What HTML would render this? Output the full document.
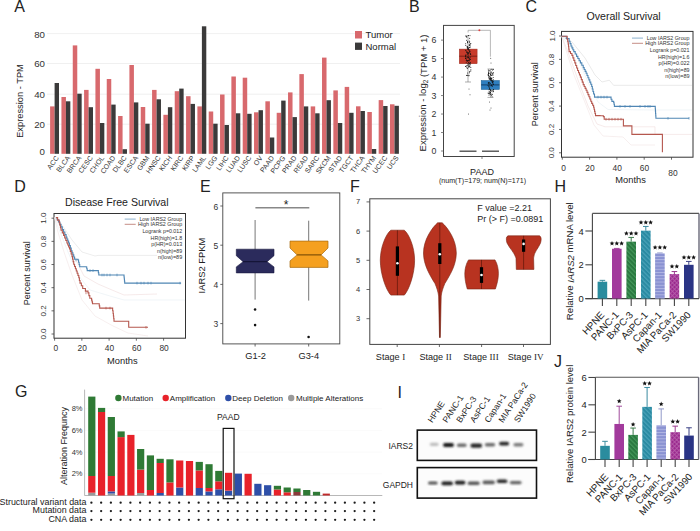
<!DOCTYPE html>
<html><head><meta charset="utf-8"><style>
html,body{margin:0;padding:0;background:#fff;width:700px;height:531px;overflow:hidden;}
svg{display:block;}
</style></head><body>
<svg width="700" height="531" viewBox="0 0 700 531" font-family="Liberation Sans, sans-serif">
<rect width="700" height="531" fill="#fff"/>
<text x="14.2" y="6.4" font-size="16" text-anchor="start" fill="#222" font-family="Liberation Sans" dominant-baseline="central" >A</text>
<text x="408.9" y="6.2" font-size="16" text-anchor="start" fill="#222" font-family="Liberation Sans" dominant-baseline="central" >B</text>
<text x="525.6" y="6.6" font-size="16" text-anchor="start" fill="#222" font-family="Liberation Sans" dominant-baseline="central" >C</text>
<text x="14.2" y="186.2" font-size="16" text-anchor="start" fill="#222" font-family="Liberation Sans" dominant-baseline="central" >D</text>
<text x="200.1" y="186.2" font-size="16" text-anchor="start" fill="#222" font-family="Liberation Sans" dominant-baseline="central" >E</text>
<text x="350.1" y="186.4" font-size="16" text-anchor="start" fill="#222" font-family="Liberation Sans" dominant-baseline="central" >F</text>
<text x="554.5" y="186.2" font-size="16" text-anchor="start" fill="#222" font-family="Liberation Sans" dominant-baseline="central" >H</text>
<text x="15.1" y="391.6" font-size="16" text-anchor="start" fill="#222" font-family="Liberation Sans" dominant-baseline="central" >G</text>
<text x="397.4" y="392" font-size="16" text-anchor="start" fill="#222" font-family="Liberation Sans" dominant-baseline="central" >I</text>
<text x="554" y="361.5" font-size="16" text-anchor="start" fill="#222" font-family="Liberation Sans" dominant-baseline="central" >J</text>
<line x1="47" y1="124.2" x2="400" y2="124.2" stroke="#ececec" stroke-width="0.8" />
<line x1="47" y1="94.2" x2="400" y2="94.2" stroke="#ececec" stroke-width="0.8" />
<line x1="47" y1="63.5" x2="400" y2="63.5" stroke="#ececec" stroke-width="0.8" />
<line x1="47" y1="33.6" x2="400" y2="33.6" stroke="#ececec" stroke-width="0.8" />
<text x="45" y="151.3" font-size="9.7" text-anchor="end" fill="#333" font-family="Liberation Sans" dominant-baseline="central" >0</text>
<text x="45" y="124.3" font-size="9.7" text-anchor="end" fill="#333" font-family="Liberation Sans" dominant-baseline="central" >20</text>
<text x="45" y="94.7" font-size="9.7" text-anchor="end" fill="#333" font-family="Liberation Sans" dominant-baseline="central" >40</text>
<text x="45" y="63.8" font-size="9.7" text-anchor="end" fill="#333" font-family="Liberation Sans" dominant-baseline="central" >60</text>
<text x="45" y="34.4" font-size="9.7" text-anchor="end" fill="#333" font-family="Liberation Sans" dominant-baseline="central" >80</text>
<text x="20" y="101" font-size="9.3" text-anchor="middle" fill="#222" font-family="Liberation Sans" dominant-baseline="central" transform="rotate(-90 20 101)" >Expression - TPM</text>
<rect x="50.1" y="106.4" width="4.5" height="47.4" fill="#d8696d" stroke="none" stroke-width="1" />
<rect x="54.6" y="83" width="4.4" height="70.8" fill="#3b3a3a" stroke="none" stroke-width="1" />
<text x="57.1" y="156.5" font-size="7" text-anchor="end" fill="#333" font-family="Liberation Sans" dominant-baseline="central" transform="rotate(-54 57.1 156.5)" >ACC</text>
<rect x="61.43" y="97" width="4.5" height="56.8" fill="#d8696d" stroke="none" stroke-width="1" />
<rect x="65.93" y="101.3" width="4.4" height="52.5" fill="#3b3a3a" stroke="none" stroke-width="1" />
<text x="68.43" y="156.5" font-size="7" text-anchor="end" fill="#333" font-family="Liberation Sans" dominant-baseline="central" transform="rotate(-54 68.43 156.5)" >BLCA</text>
<rect x="72.76" y="45.4" width="4.5" height="108.4" fill="#d8696d" stroke="none" stroke-width="1" />
<rect x="77.26" y="93.7" width="4.4" height="60.1" fill="#3b3a3a" stroke="none" stroke-width="1" />
<text x="79.76" y="156.5" font-size="7" text-anchor="end" fill="#333" font-family="Liberation Sans" dominant-baseline="central" transform="rotate(-54 79.76 156.5)" >BRCA</text>
<rect x="84.09" y="89.9" width="4.5" height="63.9" fill="#d8696d" stroke="none" stroke-width="1" />
<rect x="88.59" y="107.2" width="4.4" height="46.6" fill="#3b3a3a" stroke="none" stroke-width="1" />
<text x="91.09" y="156.5" font-size="7" text-anchor="end" fill="#333" font-family="Liberation Sans" dominant-baseline="central" transform="rotate(-54 91.09 156.5)" >CESC</text>
<rect x="95.42" y="68.8" width="4.5" height="85" fill="#d8696d" stroke="none" stroke-width="1" />
<rect x="99.92" y="123" width="4.4" height="30.8" fill="#3b3a3a" stroke="none" stroke-width="1" />
<text x="102.42" y="156.5" font-size="7" text-anchor="end" fill="#333" font-family="Liberation Sans" dominant-baseline="central" transform="rotate(-54 102.42 156.5)" >CHOL</text>
<rect x="106.75" y="79" width="4.5" height="74.8" fill="#d8696d" stroke="none" stroke-width="1" />
<rect x="111.25" y="104.6" width="4.4" height="49.2" fill="#3b3a3a" stroke="none" stroke-width="1" />
<text x="113.75" y="156.5" font-size="7" text-anchor="end" fill="#333" font-family="Liberation Sans" dominant-baseline="central" transform="rotate(-54 113.75 156.5)" >COAD</text>
<rect x="118.08" y="116" width="4.5" height="37.8" fill="#d8696d" stroke="none" stroke-width="1" />
<rect x="122.58" y="149.2" width="4.4" height="4.6" fill="#3b3a3a" stroke="none" stroke-width="1" />
<text x="125.08" y="156.5" font-size="7" text-anchor="end" fill="#333" font-family="Liberation Sans" dominant-baseline="central" transform="rotate(-54 125.08 156.5)" >DLBC</text>
<rect x="129.41" y="65" width="4.5" height="88.8" fill="#d8696d" stroke="none" stroke-width="1" />
<rect x="133.91" y="102.4" width="4.4" height="51.4" fill="#3b3a3a" stroke="none" stroke-width="1" />
<text x="136.41" y="156.5" font-size="7" text-anchor="end" fill="#333" font-family="Liberation Sans" dominant-baseline="central" transform="rotate(-54 136.41 156.5)" >ESCA</text>
<rect x="140.74" y="107" width="4.5" height="46.8" fill="#d8696d" stroke="none" stroke-width="1" />
<rect x="145.24" y="123.7" width="4.4" height="30.1" fill="#3b3a3a" stroke="none" stroke-width="1" />
<text x="147.74" y="156.5" font-size="7" text-anchor="end" fill="#333" font-family="Liberation Sans" dominant-baseline="central" transform="rotate(-54 147.74 156.5)" >GBM</text>
<rect x="152.07" y="89.9" width="4.5" height="63.9" fill="#d8696d" stroke="none" stroke-width="1" />
<rect x="156.57" y="99.3" width="4.4" height="54.5" fill="#3b3a3a" stroke="none" stroke-width="1" />
<text x="159.07" y="156.5" font-size="7" text-anchor="end" fill="#333" font-family="Liberation Sans" dominant-baseline="central" transform="rotate(-54 159.07 156.5)" >HNSC</text>
<rect x="163.4" y="114.8" width="4.5" height="39" fill="#d8696d" stroke="none" stroke-width="1" />
<rect x="167.9" y="107.2" width="4.4" height="46.6" fill="#3b3a3a" stroke="none" stroke-width="1" />
<text x="170.4" y="156.5" font-size="7" text-anchor="end" fill="#333" font-family="Liberation Sans" dominant-baseline="central" transform="rotate(-54 170.4 156.5)" >KICH</text>
<rect x="174.73" y="91.2" width="4.5" height="62.6" fill="#d8696d" stroke="none" stroke-width="1" />
<rect x="179.23" y="88.6" width="4.4" height="65.2" fill="#3b3a3a" stroke="none" stroke-width="1" />
<text x="181.73" y="156.5" font-size="7" text-anchor="end" fill="#333" font-family="Liberation Sans" dominant-baseline="central" transform="rotate(-54 181.73 156.5)" >KIRC</text>
<rect x="186.06" y="96.2" width="4.5" height="57.6" fill="#d8696d" stroke="none" stroke-width="1" />
<rect x="190.56" y="103.9" width="4.4" height="49.9" fill="#3b3a3a" stroke="none" stroke-width="1" />
<text x="193.06" y="156.5" font-size="7" text-anchor="end" fill="#333" font-family="Liberation Sans" dominant-baseline="central" transform="rotate(-54 193.06 156.5)" >KIRP</text>
<rect x="197.39" y="106.4" width="4.5" height="47.4" fill="#d8696d" stroke="none" stroke-width="1" />
<rect x="201.89" y="26.3" width="4.4" height="127.5" fill="#3b3a3a" stroke="none" stroke-width="1" />
<text x="204.39" y="156.5" font-size="7" text-anchor="end" fill="#333" font-family="Liberation Sans" dominant-baseline="central" transform="rotate(-54 204.39 156.5)" >LAML</text>
<rect x="208.72" y="111.5" width="4.5" height="42.3" fill="#d8696d" stroke="none" stroke-width="1" />
<rect x="213.22" y="123.7" width="4.4" height="30.1" fill="#3b3a3a" stroke="none" stroke-width="1" />
<text x="215.72" y="156.5" font-size="7" text-anchor="end" fill="#333" font-family="Liberation Sans" dominant-baseline="central" transform="rotate(-54 215.72 156.5)" >LGG</text>
<rect x="220.05" y="94.5" width="4.5" height="59.3" fill="#d8696d" stroke="none" stroke-width="1" />
<rect x="224.55" y="125" width="4.4" height="28.8" fill="#3b3a3a" stroke="none" stroke-width="1" />
<text x="227.05" y="156.5" font-size="7" text-anchor="end" fill="#333" font-family="Liberation Sans" dominant-baseline="central" transform="rotate(-54 227.05 156.5)" >LIHC</text>
<rect x="231.38" y="76.5" width="4.5" height="77.3" fill="#d8696d" stroke="none" stroke-width="1" />
<rect x="235.88" y="113.3" width="4.4" height="40.5" fill="#3b3a3a" stroke="none" stroke-width="1" />
<text x="238.38" y="156.5" font-size="7" text-anchor="end" fill="#333" font-family="Liberation Sans" dominant-baseline="central" transform="rotate(-54 238.38 156.5)" >LUAD</text>
<rect x="242.71" y="77.7" width="4.5" height="76.1" fill="#d8696d" stroke="none" stroke-width="1" />
<rect x="247.21" y="113.8" width="4.4" height="40" fill="#3b3a3a" stroke="none" stroke-width="1" />
<text x="249.71" y="156.5" font-size="7" text-anchor="end" fill="#333" font-family="Liberation Sans" dominant-baseline="central" transform="rotate(-54 249.71 156.5)" >LUSC</text>
<rect x="254.04" y="112.3" width="4.5" height="41.5" fill="#d8696d" stroke="none" stroke-width="1" />
<rect x="258.54" y="110.2" width="4.4" height="43.6" fill="#3b3a3a" stroke="none" stroke-width="1" />
<text x="261.04" y="156.5" font-size="7" text-anchor="end" fill="#333" font-family="Liberation Sans" dominant-baseline="central" transform="rotate(-54 261.04 156.5)" >OV</text>
<rect x="265.37" y="101.3" width="4.5" height="52.5" fill="#d8696d" stroke="none" stroke-width="1" />
<rect x="269.87" y="137.5" width="4.4" height="16.3" fill="#3b3a3a" stroke="none" stroke-width="1" />
<text x="272.37" y="156.5" font-size="7" text-anchor="end" fill="#333" font-family="Liberation Sans" dominant-baseline="central" transform="rotate(-54 272.37 156.5)" >PAAD</text>
<rect x="276.7" y="112.8" width="4.5" height="41" fill="#d8696d" stroke="none" stroke-width="1" />
<rect x="281.2" y="100.6" width="4.4" height="53.2" fill="#3b3a3a" stroke="none" stroke-width="1" />
<text x="283.7" y="156.5" font-size="7" text-anchor="end" fill="#333" font-family="Liberation Sans" dominant-baseline="central" transform="rotate(-54 283.7 156.5)" >PCPG</text>
<rect x="288.03" y="92.4" width="4.5" height="61.4" fill="#d8696d" stroke="none" stroke-width="1" />
<rect x="292.53" y="117.1" width="4.4" height="36.7" fill="#3b3a3a" stroke="none" stroke-width="1" />
<text x="295.03" y="156.5" font-size="7" text-anchor="end" fill="#333" font-family="Liberation Sans" dominant-baseline="central" transform="rotate(-54 295.03 156.5)" >PRAD</text>
<rect x="299.36" y="74.1" width="4.5" height="79.7" fill="#d8696d" stroke="none" stroke-width="1" />
<rect x="303.86" y="106.4" width="4.4" height="47.4" fill="#3b3a3a" stroke="none" stroke-width="1" />
<text x="306.36" y="156.5" font-size="7" text-anchor="end" fill="#333" font-family="Liberation Sans" dominant-baseline="central" transform="rotate(-54 306.36 156.5)" >READ</text>
<rect x="310.69" y="106.4" width="4.5" height="47.4" fill="#d8696d" stroke="none" stroke-width="1" />
<rect x="315.19" y="113.3" width="4.4" height="40.5" fill="#3b3a3a" stroke="none" stroke-width="1" />
<text x="317.69" y="156.5" font-size="7" text-anchor="end" fill="#333" font-family="Liberation Sans" dominant-baseline="central" transform="rotate(-54 317.69 156.5)" >SARC</text>
<rect x="322.02" y="57.6" width="4.5" height="96.2" fill="#d8696d" stroke="none" stroke-width="1" />
<rect x="326.52" y="100.2" width="4.4" height="53.6" fill="#3b3a3a" stroke="none" stroke-width="1" />
<text x="329.02" y="156.5" font-size="7" text-anchor="end" fill="#333" font-family="Liberation Sans" dominant-baseline="central" transform="rotate(-54 329.02 156.5)" >SKCM</text>
<rect x="333.35" y="90.4" width="4.5" height="63.4" fill="#d8696d" stroke="none" stroke-width="1" />
<rect x="337.85" y="123" width="4.4" height="30.8" fill="#3b3a3a" stroke="none" stroke-width="1" />
<text x="340.35" y="156.5" font-size="7" text-anchor="end" fill="#333" font-family="Liberation Sans" dominant-baseline="central" transform="rotate(-54 340.35 156.5)" >STAD</text>
<rect x="344.68" y="86.9" width="4.5" height="66.9" fill="#d8696d" stroke="none" stroke-width="1" />
<rect x="349.18" y="112.8" width="4.4" height="41" fill="#3b3a3a" stroke="none" stroke-width="1" />
<text x="351.68" y="156.5" font-size="7" text-anchor="end" fill="#333" font-family="Liberation Sans" dominant-baseline="central" transform="rotate(-54 351.68 156.5)" >TGCT</text>
<rect x="356.01" y="106.3" width="4.5" height="47.5" fill="#d8696d" stroke="none" stroke-width="1" />
<rect x="360.51" y="111" width="4.4" height="42.8" fill="#3b3a3a" stroke="none" stroke-width="1" />
<text x="363.01" y="156.5" font-size="7" text-anchor="end" fill="#333" font-family="Liberation Sans" dominant-baseline="central" transform="rotate(-54 363.01 156.5)" >THCA</text>
<rect x="367.34" y="112" width="4.5" height="41.8" fill="#d8696d" stroke="none" stroke-width="1" />
<rect x="371.84" y="149" width="4.4" height="4.8" fill="#3b3a3a" stroke="none" stroke-width="1" />
<text x="374.34" y="156.5" font-size="7" text-anchor="end" fill="#333" font-family="Liberation Sans" dominant-baseline="central" transform="rotate(-54 374.34 156.5)" >THYM</text>
<rect x="378.67" y="100.1" width="4.5" height="53.7" fill="#d8696d" stroke="none" stroke-width="1" />
<rect x="383.17" y="106" width="4.4" height="47.8" fill="#3b3a3a" stroke="none" stroke-width="1" />
<text x="385.67" y="156.5" font-size="7" text-anchor="end" fill="#333" font-family="Liberation Sans" dominant-baseline="central" transform="rotate(-54 385.67 156.5)" >UCEC</text>
<rect x="390" y="104.3" width="4.5" height="49.5" fill="#d8696d" stroke="none" stroke-width="1" />
<rect x="394.5" y="105.8" width="4.4" height="48" fill="#3b3a3a" stroke="none" stroke-width="1" />
<text x="397" y="156.5" font-size="7" text-anchor="end" fill="#333" font-family="Liberation Sans" dominant-baseline="central" transform="rotate(-54 397 156.5)" >UCS</text>
<rect x="355" y="31" width="7" height="7.5" fill="#d8696d" stroke="none" stroke-width="1" />
<rect x="355" y="42.6" width="7" height="7.3" fill="#3b3a3a" stroke="none" stroke-width="1" />
<text x="365.5" y="34.8" font-size="9.5" text-anchor="start" fill="#222" font-family="Liberation Sans" dominant-baseline="central" >Tumor</text>
<text x="365.5" y="46.4" font-size="9.5" text-anchor="start" fill="#222" font-family="Liberation Sans" dominant-baseline="central" >Normal</text>
<rect x="443.5" y="25.4" width="70.7" height="131.1" fill="none" stroke="#444" stroke-width="1" />
<line x1="441" y1="151" x2="443.5" y2="151" stroke="#666" stroke-width="0.8" />
<text x="436.3" y="151" font-size="8.8" text-anchor="end" fill="#333" font-family="Liberation Sans" dominant-baseline="central" >0</text>
<line x1="441" y1="132.52" x2="443.5" y2="132.52" stroke="#666" stroke-width="0.8" />
<text x="436.3" y="132.52" font-size="8.8" text-anchor="end" fill="#333" font-family="Liberation Sans" dominant-baseline="central" >1</text>
<line x1="441" y1="114.04" x2="443.5" y2="114.04" stroke="#666" stroke-width="0.8" />
<text x="436.3" y="114.04" font-size="8.8" text-anchor="end" fill="#333" font-family="Liberation Sans" dominant-baseline="central" >2</text>
<line x1="441" y1="95.56" x2="443.5" y2="95.56" stroke="#666" stroke-width="0.8" />
<text x="436.3" y="95.56" font-size="8.8" text-anchor="end" fill="#333" font-family="Liberation Sans" dominant-baseline="central" >3</text>
<line x1="441" y1="77.08" x2="443.5" y2="77.08" stroke="#666" stroke-width="0.8" />
<text x="436.3" y="77.08" font-size="8.8" text-anchor="end" fill="#333" font-family="Liberation Sans" dominant-baseline="central" >4</text>
<line x1="441" y1="58.6" x2="443.5" y2="58.6" stroke="#666" stroke-width="0.8" />
<text x="436.3" y="58.6" font-size="8.8" text-anchor="end" fill="#333" font-family="Liberation Sans" dominant-baseline="central" >5</text>
<line x1="441" y1="40.12" x2="443.5" y2="40.12" stroke="#666" stroke-width="0.8" />
<text x="436.3" y="40.12" font-size="8.8" text-anchor="end" fill="#333" font-family="Liberation Sans" dominant-baseline="central" >6</text>
<line x1="482" y1="156.5" x2="482" y2="159" stroke="#666" stroke-width="0.8" />
<text x="422.5" y="93" font-size="9.5" text-anchor="middle" fill="#222" font-family="Liberation Sans" dominant-baseline="central" transform="rotate(-90 422.5 93)">Expression - log<tspan font-size="6.5" dy="2">2</tspan><tspan dy="-2"> (TPM + 1)</tspan></text>
<line x1="459.5" y1="151.2" x2="476.5" y2="151.2" stroke="#444" stroke-width="1.3" />
<line x1="482" y1="151.2" x2="499" y2="151.2" stroke="#444" stroke-width="1.3" />
<line x1="468" y1="35.6" x2="468" y2="82" stroke="#777" stroke-width="0.6" />
<line x1="465" y1="35.6" x2="471" y2="35.6" stroke="#777" stroke-width="0.6" />
<line x1="465" y1="82" x2="471" y2="82" stroke="#777" stroke-width="0.6" />
<rect x="459.3" y="49.1" width="17.8" height="14.6" fill="#c83b2b" stroke="#9a2a1e" stroke-width="0.5" />
<line x1="459.3" y1="56.2" x2="477.1" y2="56.2" stroke="#6a1a10" stroke-width="0.8" />
<line x1="490.5" y1="69" x2="490.5" y2="97.4" stroke="#777" stroke-width="0.6" />
<line x1="487.5" y1="69" x2="493.5" y2="69" stroke="#777" stroke-width="0.6" />
<line x1="487.5" y1="97.4" x2="493.5" y2="97.4" stroke="#777" stroke-width="0.6" />
<rect x="481.2" y="80.5" width="18.2" height="9" fill="#2f7fc0" stroke="#1f5f90" stroke-width="0.5" />
<line x1="481.2" y1="84.9" x2="499.4" y2="84.9" stroke="#0f3050" stroke-width="0.8" />
<circle cx="468.99" cy="52.39" r="0.5" fill="#111" />
<circle cx="468.17" cy="49.42" r="0.5" fill="#111" />
<circle cx="468.43" cy="57.13" r="0.5" fill="#111" />
<circle cx="468.8" cy="75.72" r="0.5" fill="#111" />
<circle cx="467.72" cy="57.17" r="0.5" fill="#111" />
<circle cx="466.74" cy="75.47" r="0.5" fill="#111" />
<circle cx="467.48" cy="60.59" r="0.5" fill="#111" />
<circle cx="470.86" cy="69.83" r="0.5" fill="#111" />
<circle cx="467.12" cy="52.02" r="0.5" fill="#111" />
<circle cx="469.78" cy="50.1" r="0.5" fill="#111" />
<circle cx="470.39" cy="53.54" r="0.5" fill="#111" />
<circle cx="467.79" cy="63.78" r="0.5" fill="#111" />
<circle cx="467.28" cy="75.35" r="0.5" fill="#111" />
<circle cx="468.83" cy="52.76" r="0.5" fill="#111" />
<circle cx="466.86" cy="60.78" r="0.5" fill="#111" />
<circle cx="465.61" cy="50.34" r="0.5" fill="#111" />
<circle cx="469.03" cy="75.31" r="0.5" fill="#111" />
<circle cx="467.49" cy="41.44" r="0.5" fill="#111" />
<circle cx="466.93" cy="58.08" r="0.5" fill="#111" />
<circle cx="467.27" cy="61.24" r="0.5" fill="#111" />
<circle cx="469.8" cy="59.29" r="0.5" fill="#111" />
<circle cx="466.77" cy="36.88" r="0.5" fill="#111" />
<circle cx="470.13" cy="51.75" r="0.5" fill="#111" />
<circle cx="469.13" cy="66.33" r="0.5" fill="#111" />
<circle cx="469.99" cy="47.59" r="0.5" fill="#111" />
<circle cx="467.45" cy="46.53" r="0.5" fill="#111" />
<circle cx="467.86" cy="48.13" r="0.5" fill="#111" />
<circle cx="470.15" cy="63.39" r="0.5" fill="#111" />
<circle cx="466.8" cy="67.7" r="0.5" fill="#111" />
<circle cx="465.8" cy="45.58" r="0.5" fill="#111" />
<circle cx="469.2" cy="40.97" r="0.5" fill="#111" />
<circle cx="470.29" cy="62.5" r="0.5" fill="#111" />
<circle cx="468.49" cy="60.82" r="0.5" fill="#111" />
<circle cx="465.59" cy="56.34" r="0.5" fill="#111" />
<circle cx="467.03" cy="75.14" r="0.5" fill="#111" />
<circle cx="465.56" cy="58.61" r="0.5" fill="#111" />
<circle cx="467.29" cy="53.43" r="0.5" fill="#111" />
<circle cx="467.53" cy="47.42" r="0.5" fill="#111" />
<circle cx="469.49" cy="60.78" r="0.5" fill="#111" />
<circle cx="468.87" cy="64.4" r="0.5" fill="#111" />
<circle cx="467.92" cy="56.17" r="0.5" fill="#111" />
<circle cx="469.37" cy="47.43" r="0.5" fill="#111" />
<circle cx="465.94" cy="54.78" r="0.5" fill="#111" />
<circle cx="467.61" cy="42.73" r="0.5" fill="#111" />
<circle cx="469.19" cy="63.67" r="0.5" fill="#111" />
<circle cx="468.78" cy="60.24" r="0.5" fill="#111" />
<circle cx="469.25" cy="45.36" r="0.5" fill="#111" />
<circle cx="465.75" cy="66.14" r="0.5" fill="#111" />
<circle cx="465.89" cy="57.75" r="0.5" fill="#111" />
<circle cx="468.94" cy="62.68" r="0.5" fill="#111" />
<circle cx="467.48" cy="68.17" r="0.5" fill="#111" />
<circle cx="467.82" cy="54.55" r="0.5" fill="#111" />
<circle cx="468.21" cy="57.58" r="0.5" fill="#111" />
<circle cx="469.66" cy="71.42" r="0.5" fill="#111" />
<circle cx="466.65" cy="65.74" r="0.5" fill="#111" />
<circle cx="470.79" cy="67.5" r="0.5" fill="#111" />
<circle cx="468.77" cy="53.21" r="0.5" fill="#111" />
<circle cx="467.66" cy="72.99" r="0.5" fill="#111" />
<circle cx="466.34" cy="51.03" r="0.5" fill="#111" />
<circle cx="468.61" cy="48.45" r="0.5" fill="#111" />
<circle cx="468.12" cy="49.28" r="0.5" fill="#111" />
<circle cx="470.82" cy="43.39" r="0.5" fill="#111" />
<circle cx="470.27" cy="57.12" r="0.5" fill="#111" />
<circle cx="469.27" cy="59.07" r="0.5" fill="#111" />
<circle cx="466.71" cy="36.76" r="0.5" fill="#111" />
<circle cx="466.21" cy="62.7" r="0.5" fill="#111" />
<circle cx="470.55" cy="64.77" r="0.5" fill="#111" />
<circle cx="469.72" cy="45.52" r="0.5" fill="#111" />
<circle cx="467.01" cy="46.7" r="0.5" fill="#111" />
<circle cx="466.17" cy="59.95" r="0.5" fill="#111" />
<circle cx="468.67" cy="50.12" r="0.5" fill="#111" />
<circle cx="470.44" cy="43.88" r="0.5" fill="#111" />
<circle cx="468.84" cy="66.34" r="0.5" fill="#111" />
<circle cx="466.52" cy="59.88" r="0.5" fill="#111" />
<circle cx="469.62" cy="38.29" r="0.5" fill="#111" />
<circle cx="465.78" cy="56.23" r="0.5" fill="#111" />
<circle cx="467.38" cy="48.66" r="0.5" fill="#111" />
<circle cx="470.21" cy="46.11" r="0.5" fill="#111" />
<circle cx="469.83" cy="57.98" r="0.5" fill="#111" />
<circle cx="469.67" cy="41.81" r="0.5" fill="#111" />
<circle cx="468.45" cy="62.68" r="0.5" fill="#111" />
<circle cx="465.72" cy="66.51" r="0.5" fill="#111" />
<circle cx="469.04" cy="65.41" r="0.5" fill="#111" />
<circle cx="469.55" cy="51.3" r="0.5" fill="#111" />
<circle cx="468.43" cy="35.47" r="0.5" fill="#111" />
<circle cx="468.3" cy="54.96" r="0.5" fill="#111" />
<circle cx="470.46" cy="59.48" r="0.5" fill="#111" />
<circle cx="467.53" cy="42.46" r="0.5" fill="#111" />
<circle cx="467.33" cy="47.66" r="0.5" fill="#111" />
<circle cx="469.49" cy="42.82" r="0.5" fill="#111" />
<circle cx="470.29" cy="54.17" r="0.5" fill="#111" />
<circle cx="465.78" cy="55.57" r="0.5" fill="#111" />
<circle cx="469.4" cy="51.08" r="0.5" fill="#111" />
<circle cx="468.1" cy="53.57" r="0.5" fill="#111" />
<circle cx="469.51" cy="72.68" r="0.5" fill="#111" />
<circle cx="466.78" cy="52.16" r="0.5" fill="#111" />
<circle cx="467.77" cy="65.25" r="0.5" fill="#111" />
<circle cx="465.67" cy="43.82" r="0.5" fill="#111" />
<circle cx="465.7" cy="58.36" r="0.5" fill="#111" />
<circle cx="467.45" cy="52.33" r="0.5" fill="#111" />
<circle cx="470.68" cy="54.57" r="0.5" fill="#111" />
<circle cx="469.01" cy="58.27" r="0.5" fill="#111" />
<circle cx="468.81" cy="47.28" r="0.5" fill="#111" />
<circle cx="466.65" cy="40.31" r="0.5" fill="#111" />
<circle cx="470.76" cy="71.01" r="0.5" fill="#111" />
<circle cx="469.29" cy="44.6" r="0.5" fill="#111" />
<circle cx="469.84" cy="66.61" r="0.5" fill="#111" />
<circle cx="468.88" cy="67.32" r="0.5" fill="#111" />
<circle cx="469.46" cy="63.81" r="0.5" fill="#111" />
<circle cx="466.08" cy="36.56" r="0.5" fill="#111" />
<circle cx="492.85" cy="75.3" r="0.5" fill="#111" />
<circle cx="490.09" cy="77.39" r="0.5" fill="#111" />
<circle cx="488.49" cy="72.24" r="0.5" fill="#111" />
<circle cx="491.6" cy="95.13" r="0.5" fill="#111" />
<circle cx="490.36" cy="83.28" r="0.5" fill="#111" />
<circle cx="489.08" cy="82.78" r="0.5" fill="#111" />
<circle cx="488.52" cy="73.53" r="0.5" fill="#111" />
<circle cx="491.58" cy="75.42" r="0.5" fill="#111" />
<circle cx="490.5" cy="90.85" r="0.5" fill="#111" />
<circle cx="489.18" cy="73.13" r="0.5" fill="#111" />
<circle cx="488.44" cy="86.79" r="0.5" fill="#111" />
<circle cx="491.38" cy="85.53" r="0.5" fill="#111" />
<circle cx="489.25" cy="78.2" r="0.5" fill="#111" />
<circle cx="493.48" cy="72.79" r="0.5" fill="#111" />
<circle cx="493.26" cy="84.53" r="0.5" fill="#111" />
<circle cx="490.29" cy="92.41" r="0.5" fill="#111" />
<circle cx="492.02" cy="85.89" r="0.5" fill="#111" />
<circle cx="490.43" cy="74.65" r="0.5" fill="#111" />
<circle cx="488.62" cy="75.41" r="0.5" fill="#111" />
<circle cx="492.25" cy="90.24" r="0.5" fill="#111" />
<circle cx="489.77" cy="89.26" r="0.5" fill="#111" />
<circle cx="492.74" cy="81.46" r="0.5" fill="#111" />
<circle cx="492.49" cy="82.71" r="0.5" fill="#111" />
<circle cx="490.61" cy="89.71" r="0.5" fill="#111" />
<circle cx="488.57" cy="93.33" r="0.5" fill="#111" />
<circle cx="491.76" cy="80.54" r="0.5" fill="#111" />
<circle cx="490.85" cy="73.7" r="0.5" fill="#111" />
<circle cx="488.14" cy="93.07" r="0.5" fill="#111" />
<circle cx="492.53" cy="82.52" r="0.5" fill="#111" />
<circle cx="489.06" cy="84.67" r="0.5" fill="#111" />
<circle cx="489.99" cy="85.81" r="0.5" fill="#111" />
<circle cx="488.9" cy="83.05" r="0.5" fill="#111" />
<circle cx="492.6" cy="80.96" r="0.5" fill="#111" />
<circle cx="489.59" cy="70.77" r="0.5" fill="#111" />
<circle cx="490.09" cy="94.24" r="0.5" fill="#111" />
<circle cx="489.05" cy="89.67" r="0.5" fill="#111" />
<circle cx="493.27" cy="84.44" r="0.5" fill="#111" />
<circle cx="493.44" cy="89.58" r="0.5" fill="#111" />
<circle cx="490.94" cy="78" r="0.5" fill="#111" />
<circle cx="488.08" cy="85.54" r="0.5" fill="#111" />
<circle cx="490.71" cy="90.37" r="0.5" fill="#111" />
<circle cx="493.32" cy="91.53" r="0.5" fill="#111" />
<circle cx="491.76" cy="81.78" r="0.5" fill="#111" />
<circle cx="489.02" cy="94.93" r="0.5" fill="#111" />
<circle cx="490.19" cy="78.41" r="0.5" fill="#111" />
<circle cx="493.08" cy="83.19" r="0.5" fill="#111" />
<circle cx="493.44" cy="69.33" r="0.5" fill="#111" />
<circle cx="488.17" cy="74.53" r="0.5" fill="#111" />
<circle cx="490.6" cy="74.75" r="0.5" fill="#111" />
<circle cx="489.15" cy="83.07" r="0.5" fill="#111" />
<circle cx="489.16" cy="91.47" r="0.5" fill="#111" />
<circle cx="488.68" cy="73" r="0.5" fill="#111" />
<circle cx="491.82" cy="69.15" r="0.5" fill="#111" />
<circle cx="490.48" cy="92.66" r="0.5" fill="#111" />
<circle cx="490.1" cy="78.18" r="0.5" fill="#111" />
<circle cx="493.2" cy="77.55" r="0.5" fill="#111" />
<circle cx="489.53" cy="93.56" r="0.5" fill="#111" />
<circle cx="491.6" cy="71.95" r="0.5" fill="#111" />
<circle cx="490.97" cy="79.44" r="0.5" fill="#111" />
<circle cx="491.45" cy="90.96" r="0.5" fill="#111" />
<circle cx="488.38" cy="70" r="0.5" fill="#111" />
<circle cx="490.83" cy="79.51" r="0.5" fill="#111" />
<circle cx="491.26" cy="78.13" r="0.5" fill="#111" />
<circle cx="488.82" cy="77.28" r="0.5" fill="#111" />
<circle cx="490.99" cy="72.84" r="0.5" fill="#111" />
<circle cx="490.48" cy="80.07" r="0.5" fill="#111" />
<circle cx="489.63" cy="87.11" r="0.5" fill="#111" />
<circle cx="488.2" cy="74.97" r="0.5" fill="#111" />
<circle cx="491.51" cy="78.2" r="0.5" fill="#111" />
<circle cx="491.85" cy="93.89" r="0.5" fill="#111" />
<circle cx="488.41" cy="70.98" r="0.5" fill="#111" />
<circle cx="492.6" cy="69.98" r="0.5" fill="#111" />
<circle cx="489.16" cy="78.13" r="0.5" fill="#111" />
<circle cx="489.33" cy="79.47" r="0.5" fill="#111" />
<circle cx="493.45" cy="81.63" r="0.5" fill="#111" />
<circle cx="493" cy="91.65" r="0.5" fill="#111" />
<circle cx="492.28" cy="73.39" r="0.5" fill="#111" />
<circle cx="492.84" cy="74.6" r="0.5" fill="#111" />
<circle cx="488.26" cy="83.12" r="0.5" fill="#111" />
<circle cx="488.36" cy="75.31" r="0.5" fill="#111" />
<circle cx="489.5" cy="88.28" r="0.5" fill="#111" />
<circle cx="490.48" cy="93.9" r="0.5" fill="#111" />
<circle cx="491.74" cy="80.18" r="0.5" fill="#111" />
<circle cx="491.02" cy="79.83" r="0.5" fill="#111" />
<circle cx="492.38" cy="86.02" r="0.5" fill="#111" />
<circle cx="493.47" cy="90.04" r="0.5" fill="#111" />
<circle cx="491.99" cy="80.25" r="0.5" fill="#111" />
<circle cx="490.95" cy="78.27" r="0.5" fill="#111" />
<circle cx="491.26" cy="84.81" r="0.5" fill="#111" />
<circle cx="492.96" cy="73.08" r="0.5" fill="#111" />
<circle cx="492.09" cy="96.85" r="0.5" fill="#111" />
<circle cx="491.89" cy="78.79" r="0.5" fill="#111" />
<circle cx="489.81" cy="92.55" r="0.5" fill="#111" />
<circle cx="488.64" cy="82.72" r="0.5" fill="#111" />
<circle cx="488.97" cy="76.35" r="0.5" fill="#111" />
<circle cx="488.41" cy="73.72" r="0.5" fill="#111" />
<circle cx="493.34" cy="79.65" r="0.5" fill="#111" />
<circle cx="489.28" cy="76.16" r="0.5" fill="#111" />
<circle cx="492.18" cy="94.54" r="0.5" fill="#111" />
<circle cx="490.85" cy="74.7" r="0.5" fill="#111" />
<circle cx="470" cy="94.8" r="0.5" fill="#444" />
<circle cx="469" cy="89" r="0.5" fill="#444" />
<circle cx="468.5" cy="114" r="0.5" fill="#444" />
<circle cx="490.7" cy="58.2" r="0.5" fill="#444" />
<circle cx="491" cy="63" r="0.5" fill="#444" />
<circle cx="489.5" cy="102" r="0.5" fill="#444" />
<circle cx="491" cy="108" r="0.5" fill="#444" />
<circle cx="490" cy="110" r="0.5" fill="#444" />
<polyline points="468.1,32.5 468.1,30.3 490.4,30.3 490.4,56.7" fill="none" stroke="#888" stroke-width="0.6" />
<circle cx="479.4" cy="30.3" r="1" fill="#e04040" />
<text x="482" y="171.5" font-size="9" text-anchor="middle" fill="#222" font-family="Liberation Sans" dominant-baseline="central" >PAAD</text>
<text x="482.5" y="181.4" font-size="7.1" text-anchor="middle" fill="#222" font-family="Liberation Sans" dominant-baseline="central" >(num(T)=179; num(N)=171)</text>
<rect x="561.5" y="31.4" width="131.5" height="125.8" fill="none" stroke="#333" stroke-width="1" />
<text x="623.6" y="15.6" font-size="10.6" text-anchor="middle" fill="#222" font-family="Liberation Sans" dominant-baseline="central" >Overall Survival</text>
<line x1="559" y1="152.8" x2="561.5" y2="152.8" stroke="#444" stroke-width="0.8" />
<text x="552" y="152.8" font-size="8" text-anchor="middle" fill="#333" font-family="Liberation Sans" dominant-baseline="central" transform="rotate(-90 552 152.8)" >0.0</text>
<line x1="559" y1="129.44" x2="561.5" y2="129.44" stroke="#444" stroke-width="0.8" />
<text x="552" y="129.44" font-size="8" text-anchor="middle" fill="#333" font-family="Liberation Sans" dominant-baseline="central" transform="rotate(-90 552 129.44)" >0.2</text>
<line x1="559" y1="106.08" x2="561.5" y2="106.08" stroke="#444" stroke-width="0.8" />
<text x="552" y="106.08" font-size="8" text-anchor="middle" fill="#333" font-family="Liberation Sans" dominant-baseline="central" transform="rotate(-90 552 106.08)" >0.4</text>
<line x1="559" y1="82.72" x2="561.5" y2="82.72" stroke="#444" stroke-width="0.8" />
<text x="552" y="82.72" font-size="8" text-anchor="middle" fill="#333" font-family="Liberation Sans" dominant-baseline="central" transform="rotate(-90 552 82.72)" >0.6</text>
<line x1="559" y1="59.36" x2="561.5" y2="59.36" stroke="#444" stroke-width="0.8" />
<text x="552" y="59.36" font-size="8" text-anchor="middle" fill="#333" font-family="Liberation Sans" dominant-baseline="central" transform="rotate(-90 552 59.36)" >0.8</text>
<line x1="559" y1="36" x2="561.5" y2="36" stroke="#444" stroke-width="0.8" />
<text x="552" y="36" font-size="8" text-anchor="middle" fill="#333" font-family="Liberation Sans" dominant-baseline="central" transform="rotate(-90 552 36)" >1.0</text>
<line x1="562.3" y1="157.2" x2="562.3" y2="159.7" stroke="#444" stroke-width="0.8" />
<text x="563.5" y="167.6" font-size="8.4" text-anchor="middle" fill="#333" font-family="Liberation Sans" dominant-baseline="central" >0</text>
<line x1="589.6" y1="157.2" x2="589.6" y2="159.7" stroke="#444" stroke-width="0.8" />
<text x="589.9" y="167.6" font-size="8.4" text-anchor="middle" fill="#333" font-family="Liberation Sans" dominant-baseline="central" >20</text>
<line x1="616.9" y1="157.2" x2="616.9" y2="159.7" stroke="#444" stroke-width="0.8" />
<text x="617.2" y="167.6" font-size="8.4" text-anchor="middle" fill="#333" font-family="Liberation Sans" dominant-baseline="central" >40</text>
<line x1="644.2" y1="157.2" x2="644.2" y2="159.7" stroke="#444" stroke-width="0.8" />
<text x="644.5" y="167.6" font-size="8.4" text-anchor="middle" fill="#333" font-family="Liberation Sans" dominant-baseline="central" >60</text>
<line x1="671.5" y1="157.2" x2="671.5" y2="159.7" stroke="#444" stroke-width="0.8" />
<text x="673" y="172.8" font-size="8.4" text-anchor="middle" fill="#333" font-family="Liberation Sans" dominant-baseline="central" >80</text>
<text x="630.6" y="180" font-size="9.3" text-anchor="middle" fill="#222" font-family="Liberation Sans" dominant-baseline="central" >Months</text>
<text x="535" y="94.3" font-size="9" text-anchor="middle" fill="#222" font-family="Liberation Sans" dominant-baseline="central" transform="rotate(-90 535 94.3)" >Percent survival</text>
<line x1="632" y1="38.1" x2="643" y2="38.1" stroke="#7fa8c8" stroke-width="0.9" />
<line x1="632" y1="43.3" x2="643" y2="43.3" stroke="#c08078" stroke-width="0.9" />
<text x="689.5" y="38.1" font-size="6" text-anchor="end" fill="#333" font-family="Liberation Sans" dominant-baseline="central" textLength="42.8" lengthAdjust="spacingAndGlyphs">Low IARS2 Group</text>
<text x="689.5" y="43.3" font-size="6" text-anchor="end" fill="#333" font-family="Liberation Sans" dominant-baseline="central" textLength="44.3" lengthAdjust="spacingAndGlyphs">High IARS2 Group</text>
<text x="689.5" y="50.2" font-size="6" text-anchor="end" fill="#333" font-family="Liberation Sans" dominant-baseline="central" textLength="39.8" lengthAdjust="spacingAndGlyphs">Logrank p=0.021</text>
<text x="689.5" y="56.7" font-size="6" text-anchor="end" fill="#333" font-family="Liberation Sans" dominant-baseline="central" textLength="31.6" lengthAdjust="spacingAndGlyphs">HR(high)=1.6</text>
<text x="689.5" y="63.2" font-size="6" text-anchor="end" fill="#333" font-family="Liberation Sans" dominant-baseline="central" textLength="31" lengthAdjust="spacingAndGlyphs">p(HR)=0.022</text>
<text x="689.5" y="69.7" font-size="6" text-anchor="end" fill="#333" font-family="Liberation Sans" dominant-baseline="central" textLength="25.2" lengthAdjust="spacingAndGlyphs">n(high)=89</text>
<text x="689.5" y="76.2" font-size="6" text-anchor="end" fill="#333" font-family="Liberation Sans" dominant-baseline="central" textLength="24.2" lengthAdjust="spacingAndGlyphs">n(low)=89</text>
<polyline points="561.6,36.2 572,42 585,58 595,75 602,82 609.3,80.2 613.6,85.3 692,85.3" fill="none" stroke="#dcdcdc" stroke-width="0.6" />
<polyline points="561.6,36.2 575,52 588,82 598,102 608,109.5 655,110 692,110" fill="none" stroke="#e6eef4" stroke-width="0.6" />
<polyline points="561.6,36.2 568,52 578,80 588,106 597,124 605,126.8 655,126.8 655,134.4 692,134.4" fill="none" stroke="#f0dcdc" stroke-width="0.6" />
<polyline points="561.6,36.2 566,50 574,75 584,100 594,125 603,136 623,137 631,145 655,145" fill="none" stroke="#f2e4e4" stroke-width="0.6" />
<polyline points="561.6,36.2 566.3,36.2 566.3,38.5 569.1,38.5 569.1,41.3 570.05,41.3 570.05,43.65 571,43.65 571,46 571.93,46 571.93,47.87 572.87,47.87 572.87,49.73 573.8,49.73 573.8,51.6 575.2,51.6 575.2,54 576.6,54 576.6,56.4 577.87,56.4 577.87,58.57 579.13,58.57 579.13,60.73 580.4,60.73 580.4,62.9 581.8,62.9 581.8,65.25 583.2,65.25 583.2,67.6 584.17,67.6 584.17,69.5 585.13,69.5 585.13,71.4 586.1,71.4 586.1,73.3 587.03,73.3 587.03,75.5 587.97,75.5 587.97,77.7 588.9,77.7 588.9,79.9 589.83,79.9 589.83,82.1 590.77,82.1 590.77,84.3 591.7,84.3 591.7,86.5 592.33,86.5 592.33,89 592.97,89 592.97,91.5 593.6,91.5 593.6,94 594.5,94 594.5,97.1 610.2,97.1 610.2,97.1 611.05,97.1 611.05,99.25 611.9,99.25 611.9,101.4 613.6,101.4 613.6,102.2 614,102.2 614,104.3 614.4,104.3 614.4,106.4 655.1,106.4 655.1,106.4 655.26,106.4 655.26,108.78 655.42,108.78 655.42,111.16 655.58,111.16 655.58,113.54 655.74,113.54 655.74,115.92 655.9,115.92 655.9,118.3 689,118.3 689,118.3" fill="none" stroke="#4f86b4" stroke-width="1.1" />
<polyline points="561.6,36.2 567.2,36.2 567.2,39.4 567.7,39.4 567.7,41.75 568.2,41.75 568.2,44.1 568.5,44.1 568.5,46.6 568.8,46.6 568.8,49.1 569.1,49.1 569.1,51.6 570.5,51.6 570.5,53.5 571.9,53.5 571.9,55.4 572.87,55.4 572.87,57.9 573.83,57.9 573.83,60.4 574.8,60.4 574.8,62.9 575.73,62.9 575.73,65.43 576.67,65.43 576.67,67.97 577.6,67.97 577.6,70.5 578.53,70.5 578.53,72.7 579.47,72.7 579.47,74.9 580.4,74.9 580.4,77.1 581.33,77.1 581.33,79.6 582.27,79.6 582.27,82.1 583.2,82.1 583.2,84.6 584.17,84.6 584.17,86.47 585.13,86.47 585.13,88.33 586.1,88.33 586.1,90.2 587.03,90.2 587.03,92.4 587.97,92.4 587.97,94.6 588.9,94.6 588.9,96.8 589.83,96.8 589.83,99 590.77,99 590.77,101.2 591.7,101.2 591.7,103.4 592.65,103.4 592.65,105.3 593.6,105.3 593.6,107.2 594.08,107.2 594.08,109.3 594.55,109.3 594.55,111.4 595.02,111.4 595.02,113.5 595.5,113.5 595.5,115.6 600,115.6 600,115.8 603.4,115.8 603.4,116.6 604.2,116.6 604.2,119.2 622.9,119.2 622.9,119.2 623.4,119.2 623.4,125.9 631.4,125.9 631.4,125.9 631.9,125.9 631.9,134.4 661.9,134.4 661.9,134.4 662.4,134.4 662.4,152.2" fill="none" stroke="#b5574e" stroke-width="1.1" />
<line x1="598" y1="95.8" x2="598" y2="98.4" stroke="#4f86b4" stroke-width="0.7" />
<line x1="601" y1="95.8" x2="601" y2="98.4" stroke="#4f86b4" stroke-width="0.7" />
<line x1="604" y1="95.8" x2="604" y2="98.4" stroke="#4f86b4" stroke-width="0.7" />
<line x1="607" y1="95.8" x2="607" y2="98.4" stroke="#4f86b4" stroke-width="0.7" />
<line x1="620" y1="105.1" x2="620" y2="107.7" stroke="#4f86b4" stroke-width="0.7" />
<line x1="625" y1="105.1" x2="625" y2="107.7" stroke="#4f86b4" stroke-width="0.7" />
<line x1="630" y1="105.1" x2="630" y2="107.7" stroke="#4f86b4" stroke-width="0.7" />
<line x1="640" y1="105.1" x2="640" y2="107.7" stroke="#4f86b4" stroke-width="0.7" />
<line x1="645" y1="105.1" x2="645" y2="107.7" stroke="#4f86b4" stroke-width="0.7" />
<line x1="648" y1="105.1" x2="648" y2="107.7" stroke="#4f86b4" stroke-width="0.7" />
<line x1="650" y1="105.1" x2="650" y2="107.7" stroke="#4f86b4" stroke-width="0.7" />
<line x1="668" y1="117" x2="668" y2="119.6" stroke="#4f86b4" stroke-width="0.7" />
<line x1="689" y1="117" x2="689" y2="119.6" stroke="#4f86b4" stroke-width="0.7" />
<line x1="606" y1="117.9" x2="606" y2="120.5" stroke="#b5574e" stroke-width="0.7" />
<line x1="609" y1="117.9" x2="609" y2="120.5" stroke="#b5574e" stroke-width="0.7" />
<line x1="612" y1="117.9" x2="612" y2="120.5" stroke="#b5574e" stroke-width="0.7" />
<line x1="615" y1="117.9" x2="615" y2="120.5" stroke="#b5574e" stroke-width="0.7" />
<line x1="618" y1="117.9" x2="618" y2="120.5" stroke="#b5574e" stroke-width="0.7" />
<line x1="621" y1="117.9" x2="621" y2="120.5" stroke="#b5574e" stroke-width="0.7" />
<rect x="54" y="213.5" width="131.5" height="124.7" fill="none" stroke="#333" stroke-width="1" />
<text x="116.8" y="201.8" font-size="10.6" text-anchor="middle" fill="#222" font-family="Liberation Sans" dominant-baseline="central" >Disease Free Survival</text>
<line x1="51.5" y1="334" x2="54" y2="334" stroke="#444" stroke-width="0.8" />
<text x="43.5" y="334" font-size="8" text-anchor="middle" fill="#333" font-family="Liberation Sans" dominant-baseline="central" transform="rotate(-90 43.5 334)" >0.0</text>
<line x1="51.5" y1="310.84" x2="54" y2="310.84" stroke="#444" stroke-width="0.8" />
<text x="43.5" y="310.84" font-size="8" text-anchor="middle" fill="#333" font-family="Liberation Sans" dominant-baseline="central" transform="rotate(-90 43.5 310.84)" >0.2</text>
<line x1="51.5" y1="287.68" x2="54" y2="287.68" stroke="#444" stroke-width="0.8" />
<text x="43.5" y="287.68" font-size="8" text-anchor="middle" fill="#333" font-family="Liberation Sans" dominant-baseline="central" transform="rotate(-90 43.5 287.68)" >0.4</text>
<line x1="51.5" y1="264.52" x2="54" y2="264.52" stroke="#444" stroke-width="0.8" />
<text x="43.5" y="264.52" font-size="8" text-anchor="middle" fill="#333" font-family="Liberation Sans" dominant-baseline="central" transform="rotate(-90 43.5 264.52)" >0.6</text>
<line x1="51.5" y1="241.36" x2="54" y2="241.36" stroke="#444" stroke-width="0.8" />
<text x="43.5" y="241.36" font-size="8" text-anchor="middle" fill="#333" font-family="Liberation Sans" dominant-baseline="central" transform="rotate(-90 43.5 241.36)" >0.8</text>
<line x1="51.5" y1="218.2" x2="54" y2="218.2" stroke="#444" stroke-width="0.8" />
<text x="43.5" y="218.2" font-size="8" text-anchor="middle" fill="#333" font-family="Liberation Sans" dominant-baseline="central" transform="rotate(-90 43.5 218.2)" >1.0</text>
<line x1="54.6" y1="338.2" x2="54.6" y2="340.7" stroke="#444" stroke-width="0.8" />
<text x="55.8" y="348" font-size="8.4" text-anchor="middle" fill="#333" font-family="Liberation Sans" dominant-baseline="central" >0</text>
<line x1="81.85" y1="338.2" x2="81.85" y2="340.7" stroke="#444" stroke-width="0.8" />
<text x="82.15" y="348" font-size="8.4" text-anchor="middle" fill="#333" font-family="Liberation Sans" dominant-baseline="central" >20</text>
<line x1="109.1" y1="338.2" x2="109.1" y2="340.7" stroke="#444" stroke-width="0.8" />
<text x="109.4" y="348" font-size="8.4" text-anchor="middle" fill="#333" font-family="Liberation Sans" dominant-baseline="central" >40</text>
<line x1="136.35" y1="338.2" x2="136.35" y2="340.7" stroke="#444" stroke-width="0.8" />
<text x="136.65" y="348" font-size="8.4" text-anchor="middle" fill="#333" font-family="Liberation Sans" dominant-baseline="central" >60</text>
<line x1="163.6" y1="338.2" x2="163.6" y2="340.7" stroke="#444" stroke-width="0.8" />
<text x="164.1" y="348" font-size="8.4" text-anchor="middle" fill="#333" font-family="Liberation Sans" dominant-baseline="central" >80</text>
<text x="122.3" y="360.6" font-size="9.3" text-anchor="middle" fill="#222" font-family="Liberation Sans" dominant-baseline="central" >Months</text>
<text x="27.2" y="273.2" font-size="9" text-anchor="middle" fill="#222" font-family="Liberation Sans" dominant-baseline="central" transform="rotate(-90 27.2 273.2)" >Percent survival</text>
<line x1="124.7" y1="219.1" x2="135.7" y2="219.1" stroke="#7fa8c8" stroke-width="0.9" />
<line x1="124.7" y1="224.3" x2="135.7" y2="224.3" stroke="#c08078" stroke-width="0.9" />
<text x="182.2" y="219.1" font-size="6" text-anchor="end" fill="#333" font-family="Liberation Sans" dominant-baseline="central" textLength="42.8" lengthAdjust="spacingAndGlyphs">Low IARS2 Group</text>
<text x="182.2" y="224.3" font-size="6" text-anchor="end" fill="#333" font-family="Liberation Sans" dominant-baseline="central" textLength="44.3" lengthAdjust="spacingAndGlyphs">High IARS2 Group</text>
<text x="182.2" y="231.2" font-size="6" text-anchor="end" fill="#333" font-family="Liberation Sans" dominant-baseline="central" textLength="39.8" lengthAdjust="spacingAndGlyphs">Logrank p=0.012</text>
<text x="182.2" y="237.7" font-size="6" text-anchor="end" fill="#333" font-family="Liberation Sans" dominant-baseline="central" textLength="31.6" lengthAdjust="spacingAndGlyphs">HR(high)=1.8</text>
<text x="182.2" y="244.2" font-size="6" text-anchor="end" fill="#333" font-family="Liberation Sans" dominant-baseline="central" textLength="31" lengthAdjust="spacingAndGlyphs">p(HR)=0.013</text>
<text x="182.2" y="250.7" font-size="6" text-anchor="end" fill="#333" font-family="Liberation Sans" dominant-baseline="central" textLength="25.2" lengthAdjust="spacingAndGlyphs">n(high)=89</text>
<text x="182.2" y="257.2" font-size="6" text-anchor="end" fill="#333" font-family="Liberation Sans" dominant-baseline="central" textLength="24.2" lengthAdjust="spacingAndGlyphs">n(low)=89</text>
<polyline points="54.5,217.6 62,225 72,240 82,252 95,256 98,255.4 157,255.4" fill="none" stroke="#e0e0e0" stroke-width="0.6" />
<polyline points="54.5,217.6 60,232 68,252 78,275 90,290 110,296 124,300 185,300" fill="none" stroke="#e6eef4" stroke-width="0.6" />
<polyline points="54.5,217.6 64,232 74,256 84,276 98,284 112,290 124,295 157,294" fill="none" stroke="#f0dcdc" stroke-width="0.6" />
<polyline points="54.5,217.6 58,232 64,252 72,275 82,300 95,316 113,326 128,333 148,336" fill="none" stroke="#f2e4e4" stroke-width="0.6" />
<polyline points="55.9,217.6 57.2,217.6 57.2,219.75 58.5,219.75 58.5,221.9 59.75,221.9 59.75,224.4 61,224.4 61,226.9 62.3,226.9 62.3,229.45 63.6,229.45 63.6,232 64.85,232 64.85,234.55 66.1,234.55 66.1,237.1 66.93,237.1 66.93,239.07 67.77,239.07 67.77,241.03 68.6,241.03 68.6,243 69.47,243 69.47,245.57 70.33,245.57 70.33,248.13 71.2,248.13 71.2,250.7 72.05,250.7 72.05,252.8 72.9,252.8 72.9,254.9 73.75,254.9 73.75,257.05 74.6,257.05 74.6,259.2 78,259.2 78,260 78.57,260 78.57,262.27 79.13,262.27 79.13,264.53 79.7,264.53 79.7,266.8 86.3,266.8 86.3,267 86.75,267 86.75,268.8 87.2,268.8 87.2,270.6 97.9,270.6 97.9,270.6 98.35,270.6 98.35,272.8 98.8,272.8 98.8,275 123.8,275 123.8,275 124.03,275 124.03,277.02 124.25,277.02 124.25,279.05 124.47,279.05 124.47,281.08 124.7,281.08 124.7,283.1 181.1,283.1 181.1,283.1" fill="none" stroke="#4f86b4" stroke-width="1.1" />
<polyline points="55.9,217.6 57.6,217.6 57.6,220.15 59.3,220.15 59.3,222.7 59.87,222.7 59.87,225.23 60.43,225.23 60.43,227.77 61,227.77 61,230.3 62.3,230.3 62.3,232.85 63.6,232.85 63.6,235.4 64.7,235.4 64.7,237.93 65.8,237.93 65.8,240.47 66.9,240.47 66.9,243 67.77,243 67.77,245 68.63,245 68.63,247 69.5,247 69.5,249 70.33,249 70.33,251.53 71.17,251.53 71.17,254.07 72,254.07 72,256.6 72.57,256.6 72.57,259.13 73.13,259.13 73.13,261.67 73.7,261.67 73.7,264.2 74.57,264.2 74.57,266.47 75.43,266.47 75.43,268.73 76.3,268.73 76.3,271 77.13,271 77.13,273.27 77.97,273.27 77.97,275.53 78.8,275.53 78.8,277.8 79.4,277.8 79.4,280.45 80,280.45 80,283.1 81.35,283.1 81.35,285.8 82.7,285.8 82.7,288.5 85.4,288.5 85.4,291.1 88,291.1 88,292.9 88.9,292.9 88.9,295.6 89.8,295.6 89.8,298.3 91.6,298.3 91.6,300.1 92.05,300.1 92.05,301.9 92.5,301.9 92.5,303.7 98.8,303.7 98.8,303.7 99.25,303.7 99.25,305.9 99.7,305.9 99.7,308.1 112.2,308.1 112.2,308.1 112.65,308.1 112.65,310.8 113.1,310.8 113.1,313.5 113.4,313.5 113.4,316.07 113.7,316.07 113.7,318.63 114,318.63 114,321.2 128.3,321.2 128.3,321.2 128.7,321.2 128.7,327.3 148,327.3 148,327.3" fill="none" stroke="#b5574e" stroke-width="1.1" />
<line x1="76" y1="258.7" x2="76" y2="261.3" stroke="#4f86b4" stroke-width="0.7" />
<line x1="90" y1="269.3" x2="90" y2="271.9" stroke="#4f86b4" stroke-width="0.7" />
<line x1="93" y1="269.3" x2="93" y2="271.9" stroke="#4f86b4" stroke-width="0.7" />
<line x1="102" y1="273.7" x2="102" y2="276.3" stroke="#4f86b4" stroke-width="0.7" />
<line x1="104" y1="273.7" x2="104" y2="276.3" stroke="#4f86b4" stroke-width="0.7" />
<line x1="107" y1="273.7" x2="107" y2="276.3" stroke="#4f86b4" stroke-width="0.7" />
<line x1="110" y1="273.7" x2="110" y2="276.3" stroke="#4f86b4" stroke-width="0.7" />
<line x1="117" y1="273.7" x2="117" y2="276.3" stroke="#4f86b4" stroke-width="0.7" />
<line x1="137" y1="281.8" x2="137" y2="284.4" stroke="#4f86b4" stroke-width="0.7" />
<line x1="141" y1="281.8" x2="141" y2="284.4" stroke="#4f86b4" stroke-width="0.7" />
<line x1="144" y1="281.8" x2="144" y2="284.4" stroke="#4f86b4" stroke-width="0.7" />
<line x1="148" y1="281.8" x2="148" y2="284.4" stroke="#4f86b4" stroke-width="0.7" />
<line x1="151" y1="281.8" x2="151" y2="284.4" stroke="#4f86b4" stroke-width="0.7" />
<line x1="180" y1="281.8" x2="180" y2="284.4" stroke="#4f86b4" stroke-width="0.7" />
<line x1="86" y1="291.6" x2="86" y2="294.2" stroke="#b5574e" stroke-width="0.7" />
<line x1="106" y1="306.8" x2="106" y2="309.4" stroke="#b5574e" stroke-width="0.7" />
<line x1="110" y1="306.8" x2="110" y2="309.4" stroke="#b5574e" stroke-width="0.7" />
<line x1="146" y1="326" x2="146" y2="328.6" stroke="#b5574e" stroke-width="0.7" />
<rect x="222.8" y="192.9" width="117" height="151" fill="none" stroke="#444" stroke-width="0.9" />
<line x1="220.3" y1="323.6" x2="222.8" y2="323.6" stroke="#444" stroke-width="0.8" />
<text x="218.3" y="324.1" font-size="8.5" text-anchor="end" fill="#333" font-family="Liberation Sans" dominant-baseline="central" >3</text>
<line x1="220.3" y1="284.4" x2="222.8" y2="284.4" stroke="#444" stroke-width="0.8" />
<text x="218.3" y="284.9" font-size="8.5" text-anchor="end" fill="#333" font-family="Liberation Sans" dominant-baseline="central" >4</text>
<line x1="220.3" y1="245.2" x2="222.8" y2="245.2" stroke="#444" stroke-width="0.8" />
<text x="218.3" y="245.7" font-size="8.5" text-anchor="end" fill="#333" font-family="Liberation Sans" dominant-baseline="central" >5</text>
<line x1="220.3" y1="206" x2="222.8" y2="206" stroke="#444" stroke-width="0.8" />
<text x="218.3" y="206.5" font-size="8.5" text-anchor="end" fill="#333" font-family="Liberation Sans" dominant-baseline="central" >6</text>
<text x="201.2" y="265.5" font-size="9.4" text-anchor="middle" fill="#222" font-family="Liberation Sans" dominant-baseline="central" transform="rotate(-90 201.2 265.5)" >IARS2 FPKM</text>
<line x1="255.1" y1="220" x2="255.1" y2="299.6" stroke="#777" stroke-width="1" />
<line x1="308.7" y1="220.7" x2="308.7" y2="300.6" stroke="#777" stroke-width="1" />
<polygon points="236.3,249.2 274,249.2 274,255.7 267.1,261.7 274,266.9 274,272.9 236.3,272.9 236.3,266.9 243.1,261.7 236.3,255.7" fill="#2b2b5c" stroke="#1a1a40" stroke-width="0.6"/>
<line x1="243.1" y1="261.7" x2="267.1" y2="261.7" stroke="#101030" stroke-width="1" />
<polygon points="290,241.1 328,241.1 328,248 321.1,254.9 328,260.9 328,267.4 290,267.4 290,260.9 297.1,254.9 290,248" fill="#f5a01f" stroke="#a86a10" stroke-width="0.7"/>
<line x1="297.1" y1="254.9" x2="321.1" y2="254.9" stroke="#6a4000" stroke-width="1" />
<circle cx="255.1" cy="309.5" r="1.3" fill="#111" />
<circle cx="255.1" cy="325.1" r="1.3" fill="#111" />
<circle cx="308.6" cy="337" r="1.3" fill="#111" />
<line x1="255.4" y1="207.8" x2="309.3" y2="207.8" stroke="#888" stroke-width="1.4" />
<text x="286" y="204.5" font-size="12" text-anchor="middle" fill="#222" font-family="Liberation Sans" dominant-baseline="central" >*</text>
<line x1="255.1" y1="343.9" x2="255.1" y2="346.5" stroke="#444" stroke-width="0.8" />
<line x1="308.7" y1="343.9" x2="308.7" y2="346.5" stroke="#444" stroke-width="0.8" />
<text x="255.6" y="356" font-size="9.3" text-anchor="middle" fill="#222" font-family="Liberation Sans" dominant-baseline="central" >G1-2</text>
<text x="308.8" y="356" font-size="9.3" text-anchor="middle" fill="#222" font-family="Liberation Sans" dominant-baseline="central" >G3-4</text>
<rect x="369.8" y="198.8" width="180.6" height="145.6" fill="none" stroke="#444" stroke-width="1" />
<line x1="366.5" y1="318.7" x2="369.8" y2="318.7" stroke="#444" stroke-width="0.8" />
<text x="358" y="318.7" font-size="7.5" text-anchor="middle" fill="#333" font-family="Liberation Sans" dominant-baseline="central" >3</text>
<line x1="366.5" y1="289.5" x2="369.8" y2="289.5" stroke="#444" stroke-width="0.8" />
<text x="358" y="289.5" font-size="7.5" text-anchor="middle" fill="#333" font-family="Liberation Sans" dominant-baseline="central" >4</text>
<line x1="366.5" y1="260.3" x2="369.8" y2="260.3" stroke="#444" stroke-width="0.8" />
<text x="358" y="260.3" font-size="7.5" text-anchor="middle" fill="#333" font-family="Liberation Sans" dominant-baseline="central" >5</text>
<line x1="366.5" y1="231.1" x2="369.8" y2="231.1" stroke="#444" stroke-width="0.8" />
<text x="358" y="231.1" font-size="7.5" text-anchor="middle" fill="#333" font-family="Liberation Sans" dominant-baseline="central" >6</text>
<line x1="366.5" y1="201.9" x2="369.8" y2="201.9" stroke="#444" stroke-width="0.8" />
<text x="358" y="201.9" font-size="7.5" text-anchor="middle" fill="#333" font-family="Liberation Sans" dominant-baseline="central" >7</text>
<text x="477.3" y="207.5" font-size="9" text-anchor="start" fill="#222" font-family="Liberation Sans" dominant-baseline="central" >F value =2.21</text>
<text x="477.3" y="218.6" font-size="9" text-anchor="start" fill="#222" font-family="Liberation Sans" dominant-baseline="central" >Pr (&gt; F) =0.0891</text>
<path d="M390.8,230.2 L404.3,230.2 C409,234 414.6,247 414.6,260.3 C414.6,274 409,290 404.3,295.1 L390.8,295.1 C386,290 380.3,274 380.3,260.3 C380.3,247 386,234 390.8,230.2 Z" fill="#b83320" stroke="#7a2412" stroke-width="0.6"/>
<path d="M437.6,222.8 L442.2,222.8 C448,228 456.3,240 456.3,253 C456.3,265 450,275 444.8,283.6 C443,288 441.6,292 441.2,296 L440.3,337.5 L439.5,337.5 L438.6,296 C438.2,292 436.8,288 435,283.6 C429.8,275 423.5,265 423.5,253 C423.5,240 431.8,228 437.6,222.8 Z" fill="#b83320" stroke="#7a2412" stroke-width="0.6"/>
<path d="M468.5,259.9 L495,259.9 C497.5,264 498.4,269 498.4,273.8 C498.4,279 497,284 495.4,289 L467.3,289 C465.8,284 464.8,279 464.8,273.8 C464.8,269 466,264 468.5,259.9 Z" fill="#b83320" stroke="#7a2412" stroke-width="0.6"/>
<path d="M508,235.8 L539.5,235.8 C541.5,236.5 541.5,240 540.5,243 C538,249 534,252 533.6,258 L533.9,269.4 L516.3,269.4 L516,258 C514,252 510,249 507,243 C506,240 506,236.5 508,235.8 Z" fill="#b83320" stroke="#7a2412" stroke-width="0.6"/>
<line x1="397.4" y1="230.2" x2="397.4" y2="295.1" stroke="#3a0a00" stroke-width="0.5" />
<rect x="395.8" y="246.4" width="3.2" height="29.4" fill="#000" stroke="none" stroke-width="1" />
<circle cx="397.4" cy="263.3" r="1.3" fill="#fff" />
<line x1="439.8" y1="222.8" x2="439.8" y2="337.5" stroke="#3a0a00" stroke-width="0.5" />
<rect x="438.2" y="243.2" width="3.2" height="20.8" fill="#000" stroke="none" stroke-width="1" />
<circle cx="439.8" cy="254.2" r="1.3" fill="#fff" />
<line x1="481.5" y1="259.9" x2="481.5" y2="289" stroke="#3a0a00" stroke-width="0.5" />
<rect x="479.9" y="267.2" width="3.2" height="15.7" fill="#000" stroke="none" stroke-width="1" />
<circle cx="481.5" cy="275" r="1.3" fill="#fff" />
<line x1="523.6" y1="235.8" x2="523.6" y2="269.4" stroke="#3a0a00" stroke-width="0.5" />
<rect x="522" y="239.5" width="3.2" height="12.3" fill="#000" stroke="none" stroke-width="1" />
<circle cx="523.6" cy="243.9" r="1.3" fill="#fff" />
<line x1="397.2" y1="344.4" x2="397.2" y2="347" stroke="#444" stroke-width="0.8" />
<text x="390.5" y="356.5" font-size="9.1" text-anchor="middle" fill="#222" font-family="Liberation Sans" dominant-baseline="central">Stage <tspan font-family="Liberation Serif">I</tspan></text>
<line x1="439.4" y1="344.4" x2="439.4" y2="347" stroke="#444" stroke-width="0.8" />
<text x="435.6" y="356.5" font-size="9.1" text-anchor="middle" fill="#222" font-family="Liberation Sans" dominant-baseline="central">Stage <tspan font-family="Liberation Serif">II</tspan></text>
<line x1="481.6" y1="344.4" x2="481.6" y2="347" stroke="#444" stroke-width="0.8" />
<text x="481" y="356.5" font-size="9.1" text-anchor="middle" fill="#222" font-family="Liberation Sans" dominant-baseline="central">Stage <tspan font-family="Liberation Serif">III</tspan></text>
<line x1="523.5" y1="344.4" x2="523.5" y2="347" stroke="#444" stroke-width="0.8" />
<text x="525.7" y="356.5" font-size="9.1" text-anchor="middle" fill="#222" font-family="Liberation Sans" dominant-baseline="central">Stage <tspan font-family="Liberation Serif">IV</tspan></text>
<defs>
<pattern id="pGreen" patternUnits="userSpaceOnUse" width="3.2" height="3.2" patternTransform="rotate(-45)"><rect width="3.2" height="3.2" fill="#2a7840"/><rect width="1.2" height="3.2" fill="#44975a"/></pattern>
<pattern id="pTeal" patternUnits="userSpaceOnUse" width="3.2" height="3.2" patternTransform="rotate(-45)"><rect width="3.2" height="3.2" fill="#2a8aa2"/><rect width="1.2" height="3.2" fill="#4aa2b8"/></pattern>
<pattern id="pLav" patternUnits="userSpaceOnUse" width="4" height="3.2"><rect width="4" height="3.2" fill="#8a92d2"/><rect width="4" height="0.9" fill="#b4b8e4"/></pattern>
<pattern id="pPur" patternUnits="userSpaceOnUse" width="3" height="3" patternTransform="rotate(45)"><rect width="3" height="3" fill="#9a2a8e"/><rect width="0.8" height="3" fill="#b860ac"/><rect width="3" height="0.8" fill="#b860ac"/></pattern>
</defs>
<line x1="592.4" y1="213.4" x2="699" y2="213.4" stroke="#555" stroke-width="1.1" />
<line x1="699" y1="213.4" x2="699" y2="298.6" stroke="#6a6a7a" stroke-width="1.4" />
<line x1="592.4" y1="213.4" x2="592.4" y2="298.6" stroke="#444" stroke-width="1.1" />
<line x1="585.4" y1="298.6" x2="699" y2="298.6" stroke="#444" stroke-width="1.2" />
<line x1="585.4" y1="298.6" x2="592.4" y2="298.6" stroke="#444" stroke-width="1.1" />
<text x="583.8" y="298.6" font-size="9.4" text-anchor="end" fill="#222" font-family="Liberation Sans" dominant-baseline="central" >0</text>
<line x1="585.4" y1="264.8" x2="592.4" y2="264.8" stroke="#444" stroke-width="1.1" />
<text x="583.8" y="264.8" font-size="9.4" text-anchor="end" fill="#222" font-family="Liberation Sans" dominant-baseline="central" >2</text>
<line x1="585.4" y1="231" x2="592.4" y2="231" stroke="#444" stroke-width="1.1" />
<text x="583.8" y="231" font-size="9.4" text-anchor="end" fill="#222" font-family="Liberation Sans" dominant-baseline="central" >4</text>
<line x1="602.4" y1="280.35" x2="602.4" y2="281.7" stroke="#3a8c9e" stroke-width="1" />
<line x1="599.6" y1="280.35" x2="605.2" y2="280.35" stroke="#3a8c9e" stroke-width="1" />
<rect x="597.6" y="281.7" width="9.6" height="16.9" fill="#2a8c9e" stroke="none" stroke-width="1" />
<line x1="602.4" y1="298.6" x2="602.4" y2="306.1" stroke="#444" stroke-width="1.1" />
<text x="602.4" y="313" font-size="9.8" text-anchor="end" fill="#222" font-family="Liberation Sans" dominant-baseline="central" transform="rotate(-47 602.4 313)" >HPNE</text>
<line x1="616.8" y1="248.41" x2="616.8" y2="248.75" stroke="#a04a9c" stroke-width="1" />
<line x1="614" y1="248.41" x2="619.6" y2="248.41" stroke="#a04a9c" stroke-width="1" />
<rect x="612" y="248.75" width="9.6" height="49.85" fill="#a23a9c" stroke="none" stroke-width="1" />
<line x1="616.8" y1="298.6" x2="616.8" y2="306.1" stroke="#444" stroke-width="1.1" />
<text x="616.8" y="313" font-size="9.8" text-anchor="end" fill="#222" font-family="Liberation Sans" dominant-baseline="central" transform="rotate(-47 616.8 313)" >PANC-1</text>
<line x1="631.2" y1="237.42" x2="631.2" y2="241.65" stroke="#3a7a4a" stroke-width="1" />
<line x1="628.4" y1="237.42" x2="634" y2="237.42" stroke="#3a7a4a" stroke-width="1" />
<rect x="626.4" y="241.65" width="9.6" height="56.95" fill="url(#pGreen)" stroke="none" stroke-width="1" />
<line x1="631.2" y1="298.6" x2="631.2" y2="306.1" stroke="#444" stroke-width="1.1" />
<text x="631.2" y="313" font-size="9.8" text-anchor="end" fill="#222" font-family="Liberation Sans" dominant-baseline="central" transform="rotate(-47 631.2 313)" >BxPC-3</text>
<line x1="645.8" y1="226.44" x2="645.8" y2="230.66" stroke="#3a8aa0" stroke-width="1" />
<line x1="643" y1="226.44" x2="648.6" y2="226.44" stroke="#3a8aa0" stroke-width="1" />
<rect x="641" y="230.66" width="9.6" height="67.94" fill="url(#pTeal)" stroke="none" stroke-width="1" />
<line x1="645.8" y1="298.6" x2="645.8" y2="306.1" stroke="#444" stroke-width="1.1" />
<text x="645.8" y="313" font-size="9.8" text-anchor="end" fill="#222" font-family="Liberation Sans" dominant-baseline="central" transform="rotate(-47 645.8 313)" >AsPC-1</text>
<line x1="659.9" y1="252.97" x2="659.9" y2="253.31" stroke="#9098c8" stroke-width="1" />
<line x1="657.1" y1="252.97" x2="662.7" y2="252.97" stroke="#9098c8" stroke-width="1" />
<rect x="655.1" y="253.31" width="9.6" height="45.29" fill="url(#pLav)" stroke="none" stroke-width="1" />
<line x1="659.9" y1="298.6" x2="659.9" y2="306.1" stroke="#444" stroke-width="1.1" />
<text x="659.9" y="313" font-size="9.8" text-anchor="end" fill="#222" font-family="Liberation Sans" dominant-baseline="central" transform="rotate(-47 659.9 313)" >Capan-1</text>
<line x1="674.4" y1="271.56" x2="674.4" y2="274.1" stroke="#9a3a8e" stroke-width="1" />
<line x1="671.6" y1="271.56" x2="677.2" y2="271.56" stroke="#9a3a8e" stroke-width="1" />
<rect x="669.6" y="274.1" width="9.6" height="24.5" fill="url(#pPur)" stroke="none" stroke-width="1" />
<line x1="674.4" y1="298.6" x2="674.4" y2="306.1" stroke="#444" stroke-width="1.1" />
<text x="674.4" y="313" font-size="9.8" text-anchor="end" fill="#222" font-family="Liberation Sans" dominant-baseline="central" transform="rotate(-47 674.4 313)" >MIA PaCa-2</text>
<line x1="688.8" y1="261.42" x2="688.8" y2="264.8" stroke="#3a4085" stroke-width="1" />
<line x1="686" y1="261.42" x2="691.6" y2="261.42" stroke="#3a4085" stroke-width="1" />
<rect x="684" y="264.8" width="9.6" height="33.8" fill="#2a3485" stroke="none" stroke-width="1" />
<line x1="688.8" y1="298.6" x2="688.8" y2="306.1" stroke="#444" stroke-width="1.1" />
<text x="688.8" y="313" font-size="9.8" text-anchor="end" fill="#222" font-family="Liberation Sans" dominant-baseline="central" transform="rotate(-47 688.8 313)" >SW1990</text>
<polygon points="612,241 612.66,242.59 614.38,242.73 613.07,243.85 613.47,245.52 612,244.62 610.53,245.52 610.93,243.85 609.62,242.73 611.34,242.59" fill="#111"/>
<polygon points="616.8,241 617.46,242.59 619.18,242.73 617.87,243.85 618.27,245.52 616.8,244.62 615.33,245.52 615.73,243.85 614.42,242.73 616.14,242.59" fill="#111"/>
<polygon points="621.6,241 622.26,242.59 623.98,242.73 622.67,243.85 623.07,245.52 621.6,244.62 620.13,245.52 620.53,243.85 619.22,242.73 620.94,242.59" fill="#111"/>
<polygon points="626.4,231 627.06,232.59 628.78,232.73 627.47,233.85 627.87,235.52 626.4,234.62 624.93,235.52 625.33,233.85 624.02,232.73 625.74,232.59" fill="#111"/>
<polygon points="631.2,231 631.86,232.59 633.58,232.73 632.27,233.85 632.67,235.52 631.2,234.62 629.73,235.52 630.13,233.85 628.82,232.73 630.54,232.59" fill="#111"/>
<polygon points="636,231 636.66,232.59 638.38,232.73 637.07,233.85 637.47,235.52 636,234.62 634.53,235.52 634.93,233.85 633.62,232.73 635.34,232.59" fill="#111"/>
<polygon points="641,220 641.66,221.59 643.38,221.73 642.07,222.85 642.47,224.52 641,223.62 639.53,224.52 639.93,222.85 638.62,221.73 640.34,221.59" fill="#111"/>
<polygon points="645.8,220 646.46,221.59 648.18,221.73 646.87,222.85 647.27,224.52 645.8,223.62 644.33,224.52 644.73,222.85 643.42,221.73 645.14,221.59" fill="#111"/>
<polygon points="650.6,220 651.26,221.59 652.98,221.73 651.67,222.85 652.07,224.52 650.6,223.62 649.13,224.52 649.53,222.85 648.22,221.73 649.94,221.59" fill="#111"/>
<polygon points="655.1,245 655.76,246.59 657.48,246.73 656.17,247.85 656.57,249.52 655.1,248.62 653.63,249.52 654.03,247.85 652.72,246.73 654.44,246.59" fill="#111"/>
<polygon points="659.9,245 660.56,246.59 662.28,246.73 660.97,247.85 661.37,249.52 659.9,248.62 658.43,249.52 658.83,247.85 657.52,246.73 659.24,246.59" fill="#111"/>
<polygon points="664.7,245 665.36,246.59 667.08,246.73 665.77,247.85 666.17,249.52 664.7,248.62 663.23,249.52 663.63,247.85 662.32,246.73 664.04,246.59" fill="#111"/>
<polygon points="672,264 672.66,265.59 674.38,265.73 673.07,266.85 673.47,268.52 672,267.62 670.53,268.52 670.93,266.85 669.62,265.73 671.34,265.59" fill="#111"/>
<polygon points="676.8,264 677.46,265.59 679.18,265.73 677.87,266.85 678.27,268.52 676.8,267.62 675.33,268.52 675.73,266.85 674.42,265.73 676.14,265.59" fill="#111"/>
<polygon points="684,255 684.66,256.59 686.38,256.73 685.07,257.85 685.47,259.52 684,258.62 682.53,259.52 682.93,257.85 681.62,256.73 683.34,256.59" fill="#111"/>
<polygon points="688.8,255 689.46,256.59 691.18,256.73 689.87,257.85 690.27,259.52 688.8,258.62 687.33,259.52 687.73,257.85 686.42,256.73 688.14,256.59" fill="#111"/>
<polygon points="693.6,255 694.26,256.59 695.98,256.73 694.67,257.85 695.07,259.52 693.6,258.62 692.13,259.52 692.53,257.85 691.22,256.73 692.94,256.59" fill="#111"/>
<text x="569.6" y="261.2" font-size="9.6" text-anchor="middle" fill="#222" font-family="Liberation Sans" dominant-baseline="central" transform="rotate(-90 569.6 261.2)">Relative <tspan font-style="italic">IARS2</tspan> mRNA level</text>
<line x1="595.4" y1="377.2" x2="698.6" y2="377.2" stroke="#555" stroke-width="1.1" />
<line x1="698.6" y1="377.2" x2="698.6" y2="459.5" stroke="#6a6a7a" stroke-width="1.4" />
<line x1="595.4" y1="377.2" x2="595.4" y2="459.5" stroke="#444" stroke-width="1.1" />
<line x1="588.4" y1="459.5" x2="698.6" y2="459.5" stroke="#444" stroke-width="1.2" />
<line x1="588.4" y1="459.5" x2="595.4" y2="459.5" stroke="#444" stroke-width="1.1" />
<text x="586.8" y="459.5" font-size="9.4" text-anchor="end" fill="#222" font-family="Liberation Sans" dominant-baseline="central" >0</text>
<line x1="588.4" y1="432.16" x2="595.4" y2="432.16" stroke="#444" stroke-width="1.1" />
<text x="586.8" y="432.16" font-size="9.4" text-anchor="end" fill="#222" font-family="Liberation Sans" dominant-baseline="central" >2</text>
<line x1="588.4" y1="404.82" x2="595.4" y2="404.82" stroke="#444" stroke-width="1.1" />
<text x="586.8" y="404.82" font-size="9.4" text-anchor="end" fill="#222" font-family="Liberation Sans" dominant-baseline="central" >4</text>
<line x1="588.4" y1="377.48" x2="595.4" y2="377.48" stroke="#444" stroke-width="1.1" />
<text x="586.8" y="377.48" font-size="9.4" text-anchor="end" fill="#222" font-family="Liberation Sans" dominant-baseline="central" >6</text>
<line x1="605" y1="441.32" x2="605" y2="445.83" stroke="#3a8c9e" stroke-width="1" />
<line x1="602.2" y1="441.32" x2="607.8" y2="441.32" stroke="#3a8c9e" stroke-width="1" />
<rect x="600.2" y="445.83" width="9.6" height="13.67" fill="#2a8c9e" stroke="none" stroke-width="1" />
<line x1="605" y1="459.5" x2="605" y2="467" stroke="#444" stroke-width="1.1" />
<text x="606.5" y="475" font-size="9.8" text-anchor="end" fill="#222" font-family="Liberation Sans" dominant-baseline="central" transform="rotate(-47 606.5 475)" >HPNE</text>
<line x1="619.2" y1="406.19" x2="619.2" y2="423.96" stroke="#a04a9c" stroke-width="1" />
<line x1="616.4" y1="406.19" x2="622" y2="406.19" stroke="#a04a9c" stroke-width="1" />
<rect x="614.4" y="423.96" width="9.6" height="35.54" fill="#a23a9c" stroke="none" stroke-width="1" />
<line x1="619.2" y1="459.5" x2="619.2" y2="467" stroke="#444" stroke-width="1.1" />
<text x="620.7" y="475" font-size="9.8" text-anchor="end" fill="#222" font-family="Liberation Sans" dominant-baseline="central" transform="rotate(-47 620.7 475)" >PANC-1</text>
<line x1="633.1" y1="428.06" x2="633.1" y2="434.89" stroke="#3a7a4a" stroke-width="1" />
<line x1="630.3" y1="428.06" x2="635.9" y2="428.06" stroke="#3a7a4a" stroke-width="1" />
<rect x="628.3" y="434.89" width="9.6" height="24.61" fill="url(#pGreen)" stroke="none" stroke-width="1" />
<line x1="633.1" y1="459.5" x2="633.1" y2="467" stroke="#444" stroke-width="1.1" />
<text x="634.6" y="475" font-size="9.8" text-anchor="end" fill="#222" font-family="Liberation Sans" dominant-baseline="central" transform="rotate(-47 634.6 475)" >BxPC-3</text>
<line x1="647.1" y1="387.46" x2="647.1" y2="406.87" stroke="#3a8aa0" stroke-width="1" />
<line x1="644.3" y1="387.46" x2="649.9" y2="387.46" stroke="#3a8aa0" stroke-width="1" />
<rect x="642.3" y="406.87" width="9.6" height="52.63" fill="url(#pTeal)" stroke="none" stroke-width="1" />
<line x1="647.1" y1="459.5" x2="647.1" y2="467" stroke="#444" stroke-width="1.1" />
<text x="648.6" y="475" font-size="9.8" text-anchor="end" fill="#222" font-family="Liberation Sans" dominant-baseline="central" transform="rotate(-47 648.6 475)" >AsPC-1</text>
<line x1="661.2" y1="408.92" x2="661.2" y2="425.32" stroke="#9098c8" stroke-width="1" />
<line x1="658.4" y1="408.92" x2="664" y2="408.92" stroke="#9098c8" stroke-width="1" />
<rect x="656.4" y="425.32" width="9.6" height="34.18" fill="url(#pLav)" stroke="none" stroke-width="1" />
<line x1="661.2" y1="459.5" x2="661.2" y2="467" stroke="#444" stroke-width="1.1" />
<text x="662.7" y="475" font-size="9.8" text-anchor="end" fill="#222" font-family="Liberation Sans" dominant-baseline="central" transform="rotate(-47 662.7 475)" >Capan-1</text>
<line x1="675.2" y1="426.15" x2="675.2" y2="432.16" stroke="#9a3a8e" stroke-width="1" />
<line x1="672.4" y1="426.15" x2="678" y2="426.15" stroke="#9a3a8e" stroke-width="1" />
<rect x="670.4" y="432.16" width="9.6" height="27.34" fill="url(#pPur)" stroke="none" stroke-width="1" />
<line x1="675.2" y1="459.5" x2="675.2" y2="467" stroke="#444" stroke-width="1.1" />
<text x="676.7" y="475" font-size="9.8" text-anchor="end" fill="#222" font-family="Liberation Sans" dominant-baseline="central" transform="rotate(-47 676.7 475)" >MIA PaCa-2</text>
<line x1="689" y1="427.79" x2="689" y2="435.58" stroke="#3a4085" stroke-width="1" />
<line x1="686.2" y1="427.79" x2="691.8" y2="427.79" stroke="#3a4085" stroke-width="1" />
<rect x="684.2" y="435.58" width="9.6" height="23.92" fill="#2a3485" stroke="none" stroke-width="1" />
<line x1="689" y1="459.5" x2="689" y2="467" stroke="#444" stroke-width="1.1" />
<text x="690.5" y="475" font-size="9.8" text-anchor="end" fill="#222" font-family="Liberation Sans" dominant-baseline="central" transform="rotate(-47 690.5 475)" >SW1990</text>
<polygon points="619.2,398.7 619.86,400.29 621.58,400.43 620.27,401.55 620.67,403.22 619.2,402.32 617.73,403.22 618.13,401.55 616.82,400.43 618.54,400.29" fill="#111"/>
<polygon points="633.1,421.9 633.76,423.49 635.48,423.63 634.17,424.75 634.57,426.42 633.1,425.52 631.63,426.42 632.03,424.75 630.72,423.63 632.44,423.49" fill="#111"/>
<polygon points="644.7,381 645.36,382.59 647.08,382.73 645.77,383.85 646.17,385.52 644.7,384.62 643.23,385.52 643.63,383.85 642.32,382.73 644.04,382.59" fill="#111"/>
<polygon points="649.5,381 650.16,382.59 651.88,382.73 650.57,383.85 650.97,385.52 649.5,384.62 648.03,385.52 648.43,383.85 647.12,382.73 648.84,382.59" fill="#111"/>
<polygon points="661.2,401.6 661.86,403.19 663.58,403.33 662.27,404.45 662.67,406.12 661.2,405.23 659.73,406.12 660.13,404.45 658.82,403.33 660.54,403.19" fill="#111"/>
<polygon points="672.8,419.1 673.46,420.69 675.18,420.83 673.87,421.95 674.27,423.62 672.8,422.73 671.33,423.62 671.73,421.95 670.42,420.83 672.14,420.69" fill="#111"/>
<polygon points="677.6,419.1 678.26,420.69 679.98,420.83 678.67,421.95 679.07,423.62 677.6,422.73 676.13,423.62 676.53,421.95 675.22,420.83 676.94,420.69" fill="#111"/>
<text x="569.4" y="423.9" font-size="9.5" text-anchor="middle" fill="#222" font-family="Liberation Sans" dominant-baseline="central" transform="rotate(-90 569.4 423.9)">Relative <tspan font-style="normal">IARS2</tspan> protein level</text>
<line x1="85" y1="473.8" x2="382" y2="473.8" stroke="#f7f7f7" stroke-width="0.6" />
<text x="82.5" y="473.8" font-size="7.5" text-anchor="end" fill="#333" font-family="Liberation Sans" dominant-baseline="central" >2%</text>
<line x1="85" y1="452.1" x2="382" y2="452.1" stroke="#f7f7f7" stroke-width="0.6" />
<text x="82.5" y="452.1" font-size="7.5" text-anchor="end" fill="#333" font-family="Liberation Sans" dominant-baseline="central" >4%</text>
<line x1="85" y1="430.4" x2="382" y2="430.4" stroke="#f7f7f7" stroke-width="0.6" />
<text x="82.5" y="430.4" font-size="7.5" text-anchor="end" fill="#333" font-family="Liberation Sans" dominant-baseline="central" >6%</text>
<line x1="85" y1="408.7" x2="382" y2="408.7" stroke="#f7f7f7" stroke-width="0.6" />
<text x="82.5" y="408.7" font-size="7.5" text-anchor="end" fill="#333" font-family="Liberation Sans" dominant-baseline="central" >8%</text>
<line x1="84.6" y1="389.6" x2="84.6" y2="495.5" stroke="#999" stroke-width="0.7" />
<line x1="84.6" y1="495.5" x2="382.3" y2="495.5" stroke="#999" stroke-width="0.7" />
<text x="64.2" y="446" font-size="9" text-anchor="middle" fill="#222" font-family="Liberation Sans" dominant-baseline="central" transform="rotate(-90 64.2 446)" >Alteration Frequncy</text>
<rect x="88.2" y="492.7" width="7.2" height="2.8" fill="#9a9a9a" stroke="none" stroke-width="1" />
<rect x="88.2" y="476" width="7.2" height="16.7" fill="#e8222a" stroke="none" stroke-width="1" />
<rect x="88.2" y="396.6" width="7.2" height="79.4" fill="#2f7a35" stroke="none" stroke-width="1" />
<rect x="97.97" y="412" width="7.2" height="83.5" fill="#e8222a" stroke="none" stroke-width="1" />
<rect x="97.97" y="407.9" width="7.2" height="4.1" fill="#2f7a35" stroke="none" stroke-width="1" />
<rect x="107.74" y="493.5" width="7.2" height="2" fill="#9a9a9a" stroke="none" stroke-width="1" />
<rect x="107.74" y="491.4" width="7.2" height="2.1" fill="#2e4fa8" stroke="none" stroke-width="1" />
<rect x="107.74" y="476" width="7.2" height="15.4" fill="#e8222a" stroke="none" stroke-width="1" />
<rect x="107.74" y="417" width="7.2" height="59" fill="#2f7a35" stroke="none" stroke-width="1" />
<rect x="117.51" y="437.1" width="7.2" height="58.4" fill="#e8222a" stroke="none" stroke-width="1" />
<rect x="117.51" y="431.4" width="7.2" height="5.7" fill="#2f7a35" stroke="none" stroke-width="1" />
<rect x="127.28" y="434.9" width="7.2" height="60.6" fill="#e8222a" stroke="none" stroke-width="1" />
<rect x="137.05" y="493" width="7.2" height="2.5" fill="#9a9a9a" stroke="none" stroke-width="1" />
<rect x="137.05" y="469.6" width="7.2" height="23.4" fill="#e8222a" stroke="none" stroke-width="1" />
<rect x="137.05" y="449" width="7.2" height="20.6" fill="#2f7a35" stroke="none" stroke-width="1" />
<rect x="146.82" y="490" width="7.2" height="5.5" fill="#e8222a" stroke="none" stroke-width="1" />
<rect x="146.82" y="455.4" width="7.2" height="34.6" fill="#2f7a35" stroke="none" stroke-width="1" />
<rect x="156.59" y="493" width="7.2" height="2.5" fill="#2e4fa8" stroke="none" stroke-width="1" />
<rect x="156.59" y="463" width="7.2" height="30" fill="#e8222a" stroke="none" stroke-width="1" />
<rect x="156.59" y="458.8" width="7.2" height="4.2" fill="#2f7a35" stroke="none" stroke-width="1" />
<rect x="166.36" y="482.4" width="7.2" height="13.1" fill="#e8222a" stroke="none" stroke-width="1" />
<rect x="166.36" y="459.3" width="7.2" height="23.1" fill="#2f7a35" stroke="none" stroke-width="1" />
<rect x="176.13" y="487.5" width="7.2" height="8" fill="#2e4fa8" stroke="none" stroke-width="1" />
<rect x="176.13" y="460.5" width="7.2" height="27" fill="#e8222a" stroke="none" stroke-width="1" />
<rect x="185.9" y="461" width="7.2" height="34.5" fill="#e8222a" stroke="none" stroke-width="1" />
<rect x="195.67" y="488" width="7.2" height="7.5" fill="#2e4fa8" stroke="none" stroke-width="1" />
<rect x="195.67" y="470.4" width="7.2" height="17.6" fill="#e8222a" stroke="none" stroke-width="1" />
<rect x="195.67" y="461.9" width="7.2" height="8.5" fill="#2f7a35" stroke="none" stroke-width="1" />
<rect x="205.44" y="491.4" width="7.2" height="4.1" fill="#2e4fa8" stroke="none" stroke-width="1" />
<rect x="205.44" y="488" width="7.2" height="3.4" fill="#e8222a" stroke="none" stroke-width="1" />
<rect x="205.44" y="464.2" width="7.2" height="23.8" fill="#2f7a35" stroke="none" stroke-width="1" />
<rect x="215.21" y="489.3" width="7.2" height="6.2" fill="#2e4fa8" stroke="none" stroke-width="1" />
<rect x="215.21" y="481.3" width="7.2" height="8" fill="#e8222a" stroke="none" stroke-width="1" />
<rect x="215.21" y="470.9" width="7.2" height="10.4" fill="#2f7a35" stroke="none" stroke-width="1" />
<rect x="224.98" y="490.6" width="7.2" height="4.9" fill="#2e4fa8" stroke="none" stroke-width="1" />
<rect x="224.98" y="472.8" width="7.2" height="17.8" fill="#e8222a" stroke="none" stroke-width="1" />
<rect x="234.75" y="473.6" width="7.2" height="21.9" fill="#2e4fa8" stroke="none" stroke-width="1" />
<rect x="244.52" y="473.8" width="7.2" height="21.7" fill="#e8222a" stroke="none" stroke-width="1" />
<rect x="254.29" y="483.8" width="7.2" height="11.7" fill="#2e4fa8" stroke="none" stroke-width="1" />
<rect x="264.06" y="485.2" width="7.2" height="10.3" fill="#2e4fa8" stroke="none" stroke-width="1" />
<rect x="273.83" y="489.5" width="7.2" height="6" fill="#e8222a" stroke="none" stroke-width="1" />
<rect x="273.83" y="485.8" width="7.2" height="3.7" fill="#2f7a35" stroke="none" stroke-width="1" />
<rect x="283.6" y="492.3" width="7.2" height="3.2" fill="#e8222a" stroke="none" stroke-width="1" />
<rect x="283.6" y="487.5" width="7.2" height="4.8" fill="#2f7a35" stroke="none" stroke-width="1" />
<rect x="293.37" y="492" width="7.2" height="3.5" fill="#8a3a3a" stroke="none" stroke-width="1" />
<rect x="293.37" y="488.5" width="7.2" height="3.5" fill="#2f7a35" stroke="none" stroke-width="1" />
<rect x="303.14" y="490" width="7.2" height="5.5" fill="#2f7a35" stroke="none" stroke-width="1" />
<rect x="312.91" y="491.8" width="7.2" height="3.7" fill="#2f7a35" stroke="none" stroke-width="1" />
<rect x="322.68" y="493.6" width="7.2" height="1.9" fill="#c02a2a" stroke="none" stroke-width="1" />
<rect x="223.2" y="428.4" width="10.8" height="70.3" fill="none" stroke="#111" stroke-width="1.2" />
<text x="228.3" y="417" font-size="8.5" text-anchor="middle" fill="#222" font-family="Liberation Sans" dominant-baseline="central" >PAAD</text>
<text x="86.4" y="501.8" font-size="8.9" text-anchor="end" fill="#222" font-family="Liberation Sans" dominant-baseline="central" >Structural variant data</text>
<circle cx="91.4" cy="502.7" r="1.15" fill="#1a1a1a" />
<circle cx="101.15" cy="502.7" r="1.15" fill="#1a1a1a" />
<circle cx="110.9" cy="502.7" r="1.15" fill="#1a1a1a" />
<circle cx="120.65" cy="502.7" r="1.15" fill="#1a1a1a" />
<circle cx="130.4" cy="502.7" r="1.15" fill="#1a1a1a" />
<circle cx="140.15" cy="502.7" r="1.15" fill="#1a1a1a" />
<circle cx="149.9" cy="502.7" r="1.15" fill="#1a1a1a" />
<circle cx="159.65" cy="502.7" r="1.15" fill="#1a1a1a" />
<circle cx="169.4" cy="502.7" r="1.15" fill="#1a1a1a" />
<circle cx="179.15" cy="502.7" r="1.15" fill="#1a1a1a" />
<circle cx="188.9" cy="502.7" r="1.15" fill="#1a1a1a" />
<circle cx="198.65" cy="502.7" r="1.15" fill="#1a1a1a" />
<circle cx="208.4" cy="502.7" r="1.15" fill="#1a1a1a" />
<circle cx="218.15" cy="502.7" r="1.15" fill="#1a1a1a" />
<circle cx="227.9" cy="502.7" r="1.15" fill="#1a1a1a" />
<circle cx="237.65" cy="502.7" r="1.15" fill="#1a1a1a" />
<circle cx="247.4" cy="502.7" r="1.15" fill="#1a1a1a" />
<circle cx="257.15" cy="502.7" r="1.15" fill="#1a1a1a" />
<circle cx="266.9" cy="502.7" r="1.15" fill="#1a1a1a" />
<circle cx="276.65" cy="502.7" r="1.15" fill="#1a1a1a" />
<circle cx="286.4" cy="502.7" r="1.15" fill="#1a1a1a" />
<circle cx="296.15" cy="502.7" r="1.15" fill="#1a1a1a" />
<circle cx="305.9" cy="502.7" r="1.15" fill="#1a1a1a" />
<circle cx="315.65" cy="502.7" r="1.15" fill="#1a1a1a" />
<circle cx="325.4" cy="502.7" r="1.15" fill="#1a1a1a" />
<circle cx="335.15" cy="502.7" r="1.15" fill="#1a1a1a" />
<circle cx="344.9" cy="502.7" r="1.15" fill="#1a1a1a" />
<circle cx="354.65" cy="502.7" r="1.15" fill="#1a1a1a" />
<circle cx="364.4" cy="502.7" r="1.15" fill="#1a1a1a" />
<circle cx="374.15" cy="502.7" r="1.15" fill="#1a1a1a" />
<text x="86.4" y="510.2" font-size="8.9" text-anchor="end" fill="#222" font-family="Liberation Sans" dominant-baseline="central" >Mutation data</text>
<circle cx="91.4" cy="511.1" r="1.15" fill="#1a1a1a" />
<circle cx="101.15" cy="511.1" r="1.15" fill="#1a1a1a" />
<circle cx="110.9" cy="511.1" r="1.15" fill="#1a1a1a" />
<circle cx="120.65" cy="511.1" r="1.15" fill="#1a1a1a" />
<circle cx="130.4" cy="511.1" r="1.15" fill="#1a1a1a" />
<circle cx="140.15" cy="511.1" r="1.15" fill="#1a1a1a" />
<circle cx="149.9" cy="511.1" r="1.15" fill="#1a1a1a" />
<circle cx="159.65" cy="511.1" r="1.15" fill="#1a1a1a" />
<circle cx="169.4" cy="511.1" r="1.15" fill="#1a1a1a" />
<circle cx="179.15" cy="511.1" r="1.15" fill="#1a1a1a" />
<circle cx="188.9" cy="511.1" r="1.15" fill="#1a1a1a" />
<circle cx="198.65" cy="511.1" r="1.15" fill="#1a1a1a" />
<circle cx="208.4" cy="511.1" r="1.15" fill="#1a1a1a" />
<circle cx="218.15" cy="511.1" r="1.15" fill="#1a1a1a" />
<circle cx="227.9" cy="511.1" r="1.15" fill="#1a1a1a" />
<circle cx="237.65" cy="511.1" r="1.15" fill="#1a1a1a" />
<circle cx="247.4" cy="511.1" r="1.15" fill="#1a1a1a" />
<circle cx="257.15" cy="511.1" r="1.15" fill="#1a1a1a" />
<circle cx="266.9" cy="511.1" r="1.15" fill="#1a1a1a" />
<circle cx="276.65" cy="511.1" r="1.15" fill="#1a1a1a" />
<circle cx="286.4" cy="511.1" r="1.15" fill="#1a1a1a" />
<circle cx="296.15" cy="511.1" r="1.15" fill="#1a1a1a" />
<circle cx="305.9" cy="511.1" r="1.15" fill="#1a1a1a" />
<circle cx="315.65" cy="511.1" r="1.15" fill="#1a1a1a" />
<circle cx="325.4" cy="511.1" r="1.15" fill="#1a1a1a" />
<circle cx="335.15" cy="511.1" r="1.15" fill="#1a1a1a" />
<circle cx="344.9" cy="511.1" r="1.15" fill="#1a1a1a" />
<circle cx="354.65" cy="511.1" r="1.15" fill="#1a1a1a" />
<circle cx="364.4" cy="511.1" r="1.15" fill="#1a1a1a" />
<circle cx="374.15" cy="511.1" r="1.15" fill="#1a1a1a" />
<text x="86.4" y="518.9" font-size="8.9" text-anchor="end" fill="#222" font-family="Liberation Sans" dominant-baseline="central" >CNA data</text>
<circle cx="91.4" cy="519.8" r="1.15" fill="#1a1a1a" />
<circle cx="101.15" cy="519.8" r="1.15" fill="#1a1a1a" />
<circle cx="110.9" cy="519.8" r="1.15" fill="#1a1a1a" />
<circle cx="120.65" cy="519.8" r="1.15" fill="#1a1a1a" />
<circle cx="130.4" cy="519.8" r="1.15" fill="#1a1a1a" />
<circle cx="140.15" cy="519.8" r="1.15" fill="#1a1a1a" />
<circle cx="149.9" cy="519.8" r="1.15" fill="#1a1a1a" />
<circle cx="159.65" cy="519.8" r="1.15" fill="#1a1a1a" />
<circle cx="169.4" cy="519.8" r="1.15" fill="#1a1a1a" />
<circle cx="179.15" cy="519.8" r="1.15" fill="#1a1a1a" />
<circle cx="188.9" cy="519.8" r="1.15" fill="#1a1a1a" />
<circle cx="198.65" cy="519.8" r="1.15" fill="#1a1a1a" />
<circle cx="208.4" cy="519.8" r="1.15" fill="#1a1a1a" />
<circle cx="218.15" cy="519.8" r="1.15" fill="#1a1a1a" />
<circle cx="227.9" cy="519.8" r="1.15" fill="#1a1a1a" />
<circle cx="237.65" cy="519.8" r="1.15" fill="#1a1a1a" />
<circle cx="247.4" cy="519.8" r="1.15" fill="#1a1a1a" />
<circle cx="257.15" cy="519.8" r="1.15" fill="#1a1a1a" />
<circle cx="266.9" cy="519.8" r="1.15" fill="#1a1a1a" />
<circle cx="276.65" cy="519.8" r="1.15" fill="#1a1a1a" />
<circle cx="286.4" cy="519.8" r="1.15" fill="#1a1a1a" />
<circle cx="296.15" cy="519.8" r="1.15" fill="#1a1a1a" />
<circle cx="305.9" cy="519.8" r="1.15" fill="#1a1a1a" />
<circle cx="315.65" cy="519.8" r="1.15" fill="#1a1a1a" />
<circle cx="325.4" cy="519.8" r="1.15" fill="#1a1a1a" />
<circle cx="335.15" cy="519.8" r="1.15" fill="#1a1a1a" />
<circle cx="344.9" cy="519.8" r="1.15" fill="#1a1a1a" />
<circle cx="354.65" cy="519.8" r="1.15" fill="#1a1a1a" />
<circle cx="364.4" cy="519.8" r="1.15" fill="#1a1a1a" />
<circle cx="374.15" cy="519.8" r="1.15" fill="#1a1a1a" />
<circle cx="118.4" cy="398" r="3.2" fill="#2f7a35" />
<text x="122.5" y="398" font-size="8" text-anchor="start" fill="#222" font-family="Liberation Sans" dominant-baseline="central" >Mutation</text>
<circle cx="165.7" cy="398" r="3.2" fill="#e8222a" />
<text x="169.8" y="398" font-size="8" text-anchor="start" fill="#222" font-family="Liberation Sans" dominant-baseline="central" >Amplification</text>
<circle cx="228.3" cy="398" r="3.2" fill="#2e4fa8" />
<text x="232.3" y="398" font-size="8" text-anchor="start" fill="#222" font-family="Liberation Sans" dominant-baseline="central" >Deep Deletion</text>
<circle cx="291.2" cy="398" r="3.2" fill="#9a9a9a" />
<text x="296" y="398" font-size="8" text-anchor="start" fill="#222" font-family="Liberation Sans" dominant-baseline="central" >Multiple Alterations</text>
<text x="413" y="446.3" font-size="8.5" text-anchor="end" fill="#222" font-family="Liberation Sans" dominant-baseline="central" >IARS2</text>
<text x="413" y="485" font-size="8.5" text-anchor="end" fill="#222" font-family="Liberation Sans" dominant-baseline="central" >GAPDH</text>
<text x="429.7" y="421.6" font-size="8.5" text-anchor="start" fill="#222" font-family="Liberation Sans" dominant-baseline="central" transform="rotate(-57 429.7 421.6)" >HPNE</text>
<text x="444.6" y="421.6" font-size="8.5" text-anchor="start" fill="#222" font-family="Liberation Sans" dominant-baseline="central" transform="rotate(-57 444.6 421.6)" >PANC-1</text>
<text x="458.3" y="421.6" font-size="8.5" text-anchor="start" fill="#222" font-family="Liberation Sans" dominant-baseline="central" transform="rotate(-57 458.3 421.6)" >BxPC-3</text>
<text x="472" y="421.6" font-size="8.5" text-anchor="start" fill="#222" font-family="Liberation Sans" dominant-baseline="central" transform="rotate(-57 472 421.6)" >AsPC-1</text>
<text x="486.4" y="421.6" font-size="8.5" text-anchor="start" fill="#222" font-family="Liberation Sans" dominant-baseline="central" transform="rotate(-57 486.4 421.6)" >Capan-1</text>
<text x="500.6" y="421.6" font-size="8.5" text-anchor="start" fill="#222" font-family="Liberation Sans" dominant-baseline="central" transform="rotate(-57 500.6 421.6)" >MIA PaCa-2</text>
<text x="516" y="421.6" font-size="8.5" text-anchor="start" fill="#222" font-family="Liberation Sans" dominant-baseline="central" transform="rotate(-57 516 421.6)" >SW1990</text>
<defs><filter id="blur1" x="-50%" y="-50%" width="200%" height="200%"><feGaussianBlur stdDeviation="0.8"/></filter></defs>
<rect x="417.3" y="430.1" width="119.2" height="30.3" fill="#fcfcfc" stroke="#111" stroke-width="1.6" />
<rect x="417.3" y="467.6" width="119.2" height="30.5" fill="#fcfcfc" stroke="#111" stroke-width="1.6" />
<rect x="429.8" y="442.7" width="8.8" height="3.2" rx="1.8" fill="#bdbdbd" filter="url(#blur1)"/>
<rect x="443.2" y="442.9" width="10.6" height="4.2" rx="1.8" fill="#161616" filter="url(#blur1)"/>
<rect x="456.9" y="443.6" width="9.7" height="3.4" rx="1.8" fill="#6a6a6a" filter="url(#blur1)"/>
<rect x="470.5" y="443.5" width="11.5" height="4.2" rx="1.8" fill="#262626" filter="url(#blur1)"/>
<rect x="484.8" y="443" width="10.4" height="3.6" rx="1.8" fill="#6a6a6a" filter="url(#blur1)"/>
<rect x="499.1" y="441.7" width="10" height="3.8" rx="1.8" fill="#262626" filter="url(#blur1)"/>
<rect x="513.4" y="443.1" width="10" height="3.4" rx="1.8" fill="#7a7a7a" filter="url(#blur1)"/>
<rect x="428" y="481.5" width="9.7" height="3" rx="1.8" fill="#505050" filter="url(#blur1)"/>
<rect x="441.4" y="481.4" width="11.5" height="3.8" rx="1.8" fill="#1a1a1a" filter="url(#blur1)"/>
<rect x="454.8" y="480.7" width="10.6" height="3.8" rx="1.8" fill="#1a1a1a" filter="url(#blur1)"/>
<rect x="467.6" y="481.5" width="12.1" height="3.4" rx="1.8" fill="#555" filter="url(#blur1)"/>
<rect x="482.5" y="480.6" width="12.4" height="3.6" rx="1.8" fill="#5a5a5a" filter="url(#blur1)"/>
<rect x="496.8" y="479.4" width="10.6" height="3.6" rx="1.8" fill="#262626" filter="url(#blur1)"/>
<rect x="509.8" y="481" width="11.8" height="3.2" rx="1.8" fill="#606060" filter="url(#blur1)"/>
</svg></body></html>
